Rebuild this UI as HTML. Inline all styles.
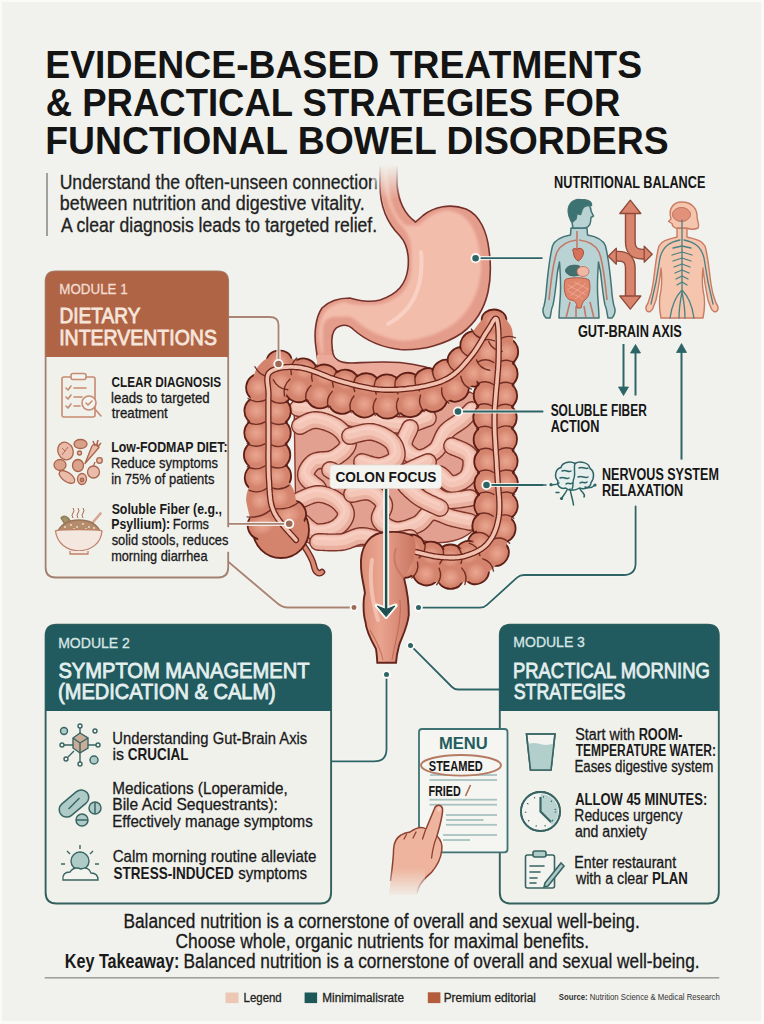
<!DOCTYPE html>
<html><head><meta charset="utf-8"><title>Functional Bowel Disorders</title>
<style>
html,body{margin:0;padding:0;background:#f1f2ed;}
body{width:764px;height:1024px;overflow:hidden;}
svg{display:block;font-family:"Liberation Sans",sans-serif;}
</style></head>
<body>
<svg width="764" height="1024" viewBox="0 0 764 1024">
<rect x="0" y="0" width="764" height="1024" fill="#fafaf8"/>
<rect x="2" y="2" width="759" height="1019" fill="#f1f2ed"/>
<text x="45.31" y="78.30" font-size="39.5" textLength="596.74" lengthAdjust="spacingAndGlyphs" fill="#141414" font-weight="bold" >EVIDENCE-BASED TREATMENTS</text>
<text x="45.71" y="116.00" font-size="39.5" textLength="574.64" lengthAdjust="spacingAndGlyphs" fill="#141414" font-weight="bold" >&amp; PRACTICAL STRATEGIES FOR</text>
<text x="45.31" y="153.80" font-size="39.5" textLength="623.35" lengthAdjust="spacingAndGlyphs" fill="#141414" font-weight="bold" >FUNCTIONAL BOWEL DISORDERS</text>
<rect x="46" y="173" width="2" height="63" fill="#a0a09c"/>
<text x="59.64" y="188.80" font-size="19.3" textLength="318.10" lengthAdjust="spacingAndGlyphs" fill="#222"  stroke="#222" stroke-width="0.3">Understand the often-unseen connection</text>
<text x="59.85" y="210.30" font-size="19.3" textLength="304.77" lengthAdjust="spacingAndGlyphs" fill="#222"  stroke="#222" stroke-width="0.3">between nutrition and digestive vitality.</text>
<text x="60.97" y="231.90" font-size="19.3" textLength="316.13" lengthAdjust="spacingAndGlyphs" fill="#222"  stroke="#222" stroke-width="0.3">A clear diagnosis leads to targeted relief.</text>
<defs>
<radialGradient id="haus" cx="0.5" cy="0.45" r="0.55">
<stop offset="0" stop-color="#eaa792"/><stop offset="0.55" stop-color="#e29a84" stop-opacity="0.7"/><stop offset="1" stop-color="#d4836d" stop-opacity="0"/>
</radialGradient>
<linearGradient id="esoFade" x1="0" y1="0" x2="0" y2="1">
<stop offset="0" stop-color="#f2b6a6" stop-opacity="0"/><stop offset="0.5" stop-color="#f2b6a6" stop-opacity="1"/>
</linearGradient>
<linearGradient id="esoEdge" x1="0" y1="0" x2="0" y2="1">
<stop offset="0" stop-color="#8f3f33" stop-opacity="0"/><stop offset="0.5" stop-color="#8f3f33" stop-opacity="1"/>
</linearGradient>
<linearGradient id="bgFade" x1="0" y1="0" x2="0" y2="1">
<stop offset="0.15" stop-color="#f1f2ed" stop-opacity="1"/><stop offset="1" stop-color="#f1f2ed" stop-opacity="0"/>
</linearGradient>
<linearGradient id="rectG" x1="0" y1="0" x2="1" y2="0">
<stop offset="0" stop-color="#dc8f79"/><stop offset="0.35" stop-color="#e9a48f"/><stop offset="1" stop-color="#c97562"/>
</linearGradient>
</defs>
<path d="M294,398 C330,410 400,425 470,392 L480,398 L478,522 C470,542 440,546 420,540 C400,536 380,546 360,546 C330,550 305,548 296,532 Z" fill="#e2a090" stroke="#8a3a2e" stroke-width="1.4"/>
<path d="M298.0,408.0 L299.3,408.1 L300.9,408.1 L302.9,408.2 L305.0,408.3 L307.3,408.4 L309.8,408.5 L312.4,408.6 L315.0,408.8 L317.6,409.0 L320.2,409.3 L322.7,409.6 L325.0,410.0 L327.2,410.5 L329.5,411.0 L331.7,411.7 L334.0,412.4 L336.2,413.1 L338.4,413.9 L340.7,414.6 L342.9,415.4 L345.2,416.1 L347.4,416.8 L349.7,417.5 L352.0,418.0 L354.3,418.5 L356.6,418.9 L359.0,419.3 L361.4,419.7 L363.7,420.0 L366.1,420.3 L368.5,420.6 L370.9,420.9 L373.2,421.2 L375.5,421.4 L377.8,421.7 L380.0,422.0 L382.2,422.3 L384.4,422.7 L386.5,423.1 L388.6,423.4 L390.7,423.8 L392.8,424.2 L394.9,424.5 L396.9,424.8 L399.0,425.0 L401.0,425.1 L403.0,425.1 L405.0,425.0 L407.1,424.7 L409.2,424.3 L411.4,423.8 L413.7,423.1 L415.9,422.4 L418.1,421.7 L420.1,420.9 L422.1,420.2 L423.9,419.5 L425.5,418.9 L426.9,418.4 L428.0,418.0" fill="none" stroke="#7f3429" stroke-width="18" stroke-linecap="round" stroke-linejoin="round"/>
<path d="M298.0,408.0 L299.3,408.1 L300.9,408.1 L302.9,408.2 L305.0,408.3 L307.3,408.4 L309.8,408.5 L312.4,408.6 L315.0,408.8 L317.6,409.0 L320.2,409.3 L322.7,409.6 L325.0,410.0 L327.2,410.5 L329.5,411.0 L331.7,411.7 L334.0,412.4 L336.2,413.1 L338.4,413.9 L340.7,414.6 L342.9,415.4 L345.2,416.1 L347.4,416.8 L349.7,417.5 L352.0,418.0 L354.3,418.5 L356.6,418.9 L359.0,419.3 L361.4,419.7 L363.7,420.0 L366.1,420.3 L368.5,420.6 L370.9,420.9 L373.2,421.2 L375.5,421.4 L377.8,421.7 L380.0,422.0 L382.2,422.3 L384.4,422.7 L386.5,423.1 L388.6,423.4 L390.7,423.8 L392.8,424.2 L394.9,424.5 L396.9,424.8 L399.0,425.0 L401.0,425.1 L403.0,425.1 L405.0,425.0 L407.1,424.7 L409.2,424.3 L411.4,423.8 L413.7,423.1 L415.9,422.4 L418.1,421.7 L420.1,420.9 L422.1,420.2 L423.9,419.5 L425.5,418.9 L426.9,418.4 L428.0,418.0" fill="none" stroke="#eab0a0" stroke-width="15.2" stroke-linecap="round" stroke-linejoin="round"/>
<path d="M298.0,408.0 L299.3,408.1 L300.9,408.1 L302.9,408.2 L305.0,408.3 L307.3,408.4 L309.8,408.5 L312.4,408.6 L315.0,408.8 L317.6,409.0 L320.2,409.3 L322.7,409.6 L325.0,410.0 L327.2,410.5 L329.5,411.0 L331.7,411.7 L334.0,412.4 L336.2,413.1 L338.4,413.9 L340.7,414.6 L342.9,415.4 L345.2,416.1 L347.4,416.8 L349.7,417.5 L352.0,418.0 L354.3,418.5 L356.6,418.9 L359.0,419.3 L361.4,419.7 L363.7,420.0 L366.1,420.3 L368.5,420.6 L370.9,420.9 L373.2,421.2 L375.5,421.4 L377.8,421.7 L380.0,422.0 L382.2,422.3 L384.4,422.7 L386.5,423.1 L388.6,423.4 L390.7,423.8 L392.8,424.2 L394.9,424.5 L396.9,424.8 L399.0,425.0 L401.0,425.1 L403.0,425.1 L405.0,425.0 L407.1,424.7 L409.2,424.3 L411.4,423.8 L413.7,423.1 L415.9,422.4 L418.1,421.7 L420.1,420.9 L422.1,420.2 L423.9,419.5 L425.5,418.9 L426.9,418.4 L428.0,418.0" fill="none" stroke="#f4c6b7" stroke-width="10" stroke-linecap="round" stroke-linejoin="round" transform="translate(-0.8,-1.6)"/>
<path d="M298.0,408.0 L299.3,408.1 L300.9,408.1 L302.9,408.2 L305.0,408.3 L307.3,408.4 L309.8,408.5 L312.4,408.6 L315.0,408.8 L317.6,409.0 L320.2,409.3 L322.7,409.6 L325.0,410.0 L327.2,410.5 L329.5,411.0 L331.7,411.7 L334.0,412.4 L336.2,413.1 L338.4,413.9 L340.7,414.6 L342.9,415.4 L345.2,416.1 L347.4,416.8 L349.7,417.5 L352.0,418.0 L354.3,418.5 L356.6,418.9 L359.0,419.3 L361.4,419.7 L363.7,420.0 L366.1,420.3 L368.5,420.6 L370.9,420.9 L373.2,421.2 L375.5,421.4 L377.8,421.7 L380.0,422.0 L382.2,422.3 L384.4,422.7 L386.5,423.1 L388.6,423.4 L390.7,423.8 L392.8,424.2 L394.9,424.5 L396.9,424.8 L399.0,425.0 L401.0,425.1 L403.0,425.1 L405.0,425.0 L407.1,424.7 L409.2,424.3 L411.4,423.8 L413.7,423.1 L415.9,422.4 L418.1,421.7 L420.1,420.9 L422.1,420.2 L423.9,419.5 L425.5,418.9 L426.9,418.4 L428.0,418.0" fill="none" stroke="#f8d2c5" stroke-width="3" stroke-linecap="round" stroke-linejoin="round" transform="translate(-1.5,-3.5)" opacity="0.7"/>
<path d="M410.0,428.0 L409.6,428.9 L409.1,430.0 L408.5,431.4 L407.7,432.9 L406.9,434.5 L406.1,436.2 L405.4,438.0 L404.7,439.8 L404.2,441.5 L403.9,443.1 L403.8,444.7 L404.0,446.0 L404.5,447.3 L405.1,448.6 L406.0,449.9 L407.0,451.2 L408.2,452.4 L409.5,453.6 L410.9,454.7 L412.3,455.7 L413.8,456.5 L415.2,457.2 L416.6,457.7 L418.0,458.0 L419.4,458.1 L420.9,457.9 L422.4,457.6 L424.0,457.2 L425.6,456.6 L427.2,455.9 L428.9,455.1 L430.4,454.1 L432.0,453.2 L433.4,452.1 L434.8,451.1 L436.0,450.0 L437.1,448.8 L438.1,447.5 L438.9,446.1 L439.7,444.5 L440.4,442.9 L441.1,441.2 L441.8,439.6 L442.5,437.9 L443.3,436.3 L444.1,434.8 L445.0,433.3 L446.0,432.0 L447.1,430.8 L448.4,429.6 L449.7,428.5 L451.1,427.5 L452.5,426.5 L454.0,425.5 L455.5,424.6 L456.9,423.6 L458.3,422.7 L459.6,421.8 L460.9,420.9 L462.0,420.0 L463.1,419.1 L464.1,418.1 L465.2,417.1 L466.1,416.1 L467.1,415.2 L468.0,414.2 L468.8,413.4 L469.6,412.5 L470.3,411.8 L471.0,411.1 L471.5,410.5 L472.0,410.0" fill="none" stroke="#7f3429" stroke-width="18" stroke-linecap="round" stroke-linejoin="round"/>
<path d="M410.0,428.0 L409.6,428.9 L409.1,430.0 L408.5,431.4 L407.7,432.9 L406.9,434.5 L406.1,436.2 L405.4,438.0 L404.7,439.8 L404.2,441.5 L403.9,443.1 L403.8,444.7 L404.0,446.0 L404.5,447.3 L405.1,448.6 L406.0,449.9 L407.0,451.2 L408.2,452.4 L409.5,453.6 L410.9,454.7 L412.3,455.7 L413.8,456.5 L415.2,457.2 L416.6,457.7 L418.0,458.0 L419.4,458.1 L420.9,457.9 L422.4,457.6 L424.0,457.2 L425.6,456.6 L427.2,455.9 L428.9,455.1 L430.4,454.1 L432.0,453.2 L433.4,452.1 L434.8,451.1 L436.0,450.0 L437.1,448.8 L438.1,447.5 L438.9,446.1 L439.7,444.5 L440.4,442.9 L441.1,441.2 L441.8,439.6 L442.5,437.9 L443.3,436.3 L444.1,434.8 L445.0,433.3 L446.0,432.0 L447.1,430.8 L448.4,429.6 L449.7,428.5 L451.1,427.5 L452.5,426.5 L454.0,425.5 L455.5,424.6 L456.9,423.6 L458.3,422.7 L459.6,421.8 L460.9,420.9 L462.0,420.0 L463.1,419.1 L464.1,418.1 L465.2,417.1 L466.1,416.1 L467.1,415.2 L468.0,414.2 L468.8,413.4 L469.6,412.5 L470.3,411.8 L471.0,411.1 L471.5,410.5 L472.0,410.0" fill="none" stroke="#eab0a0" stroke-width="15.2" stroke-linecap="round" stroke-linejoin="round"/>
<path d="M410.0,428.0 L409.6,428.9 L409.1,430.0 L408.5,431.4 L407.7,432.9 L406.9,434.5 L406.1,436.2 L405.4,438.0 L404.7,439.8 L404.2,441.5 L403.9,443.1 L403.8,444.7 L404.0,446.0 L404.5,447.3 L405.1,448.6 L406.0,449.9 L407.0,451.2 L408.2,452.4 L409.5,453.6 L410.9,454.7 L412.3,455.7 L413.8,456.5 L415.2,457.2 L416.6,457.7 L418.0,458.0 L419.4,458.1 L420.9,457.9 L422.4,457.6 L424.0,457.2 L425.6,456.6 L427.2,455.9 L428.9,455.1 L430.4,454.1 L432.0,453.2 L433.4,452.1 L434.8,451.1 L436.0,450.0 L437.1,448.8 L438.1,447.5 L438.9,446.1 L439.7,444.5 L440.4,442.9 L441.1,441.2 L441.8,439.6 L442.5,437.9 L443.3,436.3 L444.1,434.8 L445.0,433.3 L446.0,432.0 L447.1,430.8 L448.4,429.6 L449.7,428.5 L451.1,427.5 L452.5,426.5 L454.0,425.5 L455.5,424.6 L456.9,423.6 L458.3,422.7 L459.6,421.8 L460.9,420.9 L462.0,420.0 L463.1,419.1 L464.1,418.1 L465.2,417.1 L466.1,416.1 L467.1,415.2 L468.0,414.2 L468.8,413.4 L469.6,412.5 L470.3,411.8 L471.0,411.1 L471.5,410.5 L472.0,410.0" fill="none" stroke="#f4c6b7" stroke-width="10" stroke-linecap="round" stroke-linejoin="round" transform="translate(-0.8,-1.6)"/>
<path d="M410.0,428.0 L409.6,428.9 L409.1,430.0 L408.5,431.4 L407.7,432.9 L406.9,434.5 L406.1,436.2 L405.4,438.0 L404.7,439.8 L404.2,441.5 L403.9,443.1 L403.8,444.7 L404.0,446.0 L404.5,447.3 L405.1,448.6 L406.0,449.9 L407.0,451.2 L408.2,452.4 L409.5,453.6 L410.9,454.7 L412.3,455.7 L413.8,456.5 L415.2,457.2 L416.6,457.7 L418.0,458.0 L419.4,458.1 L420.9,457.9 L422.4,457.6 L424.0,457.2 L425.6,456.6 L427.2,455.9 L428.9,455.1 L430.4,454.1 L432.0,453.2 L433.4,452.1 L434.8,451.1 L436.0,450.0 L437.1,448.8 L438.1,447.5 L438.9,446.1 L439.7,444.5 L440.4,442.9 L441.1,441.2 L441.8,439.6 L442.5,437.9 L443.3,436.3 L444.1,434.8 L445.0,433.3 L446.0,432.0 L447.1,430.8 L448.4,429.6 L449.7,428.5 L451.1,427.5 L452.5,426.5 L454.0,425.5 L455.5,424.6 L456.9,423.6 L458.3,422.7 L459.6,421.8 L460.9,420.9 L462.0,420.0 L463.1,419.1 L464.1,418.1 L465.2,417.1 L466.1,416.1 L467.1,415.2 L468.0,414.2 L468.8,413.4 L469.6,412.5 L470.3,411.8 L471.0,411.1 L471.5,410.5 L472.0,410.0" fill="none" stroke="#f8d2c5" stroke-width="3" stroke-linecap="round" stroke-linejoin="round" transform="translate(-1.5,-3.5)" opacity="0.7"/>
<path d="M300.0,426.0 L300.8,425.7 L301.7,425.2 L302.7,424.6 L303.9,423.9 L305.2,423.2 L306.6,422.5 L308.1,421.8 L309.6,421.2 L311.2,420.7 L312.8,420.3 L314.4,420.0 L316.0,420.0 L317.7,420.2 L319.5,420.4 L321.4,420.8 L323.3,421.3 L325.3,421.9 L327.4,422.6 L329.4,423.4 L331.3,424.2 L333.2,425.1 L335.0,426.0 L336.6,427.0 L338.0,428.0 L339.3,429.1 L340.6,430.2 L341.9,431.5 L343.1,432.8 L344.2,434.2 L345.2,435.6 L346.1,437.1 L346.9,438.5 L347.5,440.0 L347.9,441.4 L348.0,442.7 L348.0,444.0 L347.7,445.3 L347.1,446.6 L346.3,447.9 L345.3,449.2 L344.2,450.5 L342.9,451.8 L341.5,453.0 L340.0,454.1 L338.5,455.2 L337.0,456.3 L335.5,457.2 L334.0,458.0 L332.5,458.7 L330.9,459.1 L329.1,459.5 L327.3,459.7 L325.5,459.9 L323.6,460.0 L321.8,460.1 L320.0,460.3 L318.3,460.5 L316.7,460.9 L315.3,461.3 L314.0,462.0 L312.8,462.8 L311.7,463.8 L310.7,464.8 L309.7,466.0 L308.8,467.2 L308.0,468.5 L307.3,469.8 L306.7,471.1 L306.3,472.4 L306.0,473.7 L305.9,474.9 L306.0,476.0 L306.3,477.1 L307.0,478.3 L307.9,479.4 L309.0,480.6 L310.2,481.7 L311.5,482.9 L312.8,484.0 L314.1,485.0 L315.4,485.9 L316.5,486.7 L317.4,487.4 L318.0,488.0" fill="none" stroke="#7f3429" stroke-width="18" stroke-linecap="round" stroke-linejoin="round"/>
<path d="M300.0,426.0 L300.8,425.7 L301.7,425.2 L302.7,424.6 L303.9,423.9 L305.2,423.2 L306.6,422.5 L308.1,421.8 L309.6,421.2 L311.2,420.7 L312.8,420.3 L314.4,420.0 L316.0,420.0 L317.7,420.2 L319.5,420.4 L321.4,420.8 L323.3,421.3 L325.3,421.9 L327.4,422.6 L329.4,423.4 L331.3,424.2 L333.2,425.1 L335.0,426.0 L336.6,427.0 L338.0,428.0 L339.3,429.1 L340.6,430.2 L341.9,431.5 L343.1,432.8 L344.2,434.2 L345.2,435.6 L346.1,437.1 L346.9,438.5 L347.5,440.0 L347.9,441.4 L348.0,442.7 L348.0,444.0 L347.7,445.3 L347.1,446.6 L346.3,447.9 L345.3,449.2 L344.2,450.5 L342.9,451.8 L341.5,453.0 L340.0,454.1 L338.5,455.2 L337.0,456.3 L335.5,457.2 L334.0,458.0 L332.5,458.7 L330.9,459.1 L329.1,459.5 L327.3,459.7 L325.5,459.9 L323.6,460.0 L321.8,460.1 L320.0,460.3 L318.3,460.5 L316.7,460.9 L315.3,461.3 L314.0,462.0 L312.8,462.8 L311.7,463.8 L310.7,464.8 L309.7,466.0 L308.8,467.2 L308.0,468.5 L307.3,469.8 L306.7,471.1 L306.3,472.4 L306.0,473.7 L305.9,474.9 L306.0,476.0 L306.3,477.1 L307.0,478.3 L307.9,479.4 L309.0,480.6 L310.2,481.7 L311.5,482.9 L312.8,484.0 L314.1,485.0 L315.4,485.9 L316.5,486.7 L317.4,487.4 L318.0,488.0" fill="none" stroke="#eab0a0" stroke-width="15.2" stroke-linecap="round" stroke-linejoin="round"/>
<path d="M300.0,426.0 L300.8,425.7 L301.7,425.2 L302.7,424.6 L303.9,423.9 L305.2,423.2 L306.6,422.5 L308.1,421.8 L309.6,421.2 L311.2,420.7 L312.8,420.3 L314.4,420.0 L316.0,420.0 L317.7,420.2 L319.5,420.4 L321.4,420.8 L323.3,421.3 L325.3,421.9 L327.4,422.6 L329.4,423.4 L331.3,424.2 L333.2,425.1 L335.0,426.0 L336.6,427.0 L338.0,428.0 L339.3,429.1 L340.6,430.2 L341.9,431.5 L343.1,432.8 L344.2,434.2 L345.2,435.6 L346.1,437.1 L346.9,438.5 L347.5,440.0 L347.9,441.4 L348.0,442.7 L348.0,444.0 L347.7,445.3 L347.1,446.6 L346.3,447.9 L345.3,449.2 L344.2,450.5 L342.9,451.8 L341.5,453.0 L340.0,454.1 L338.5,455.2 L337.0,456.3 L335.5,457.2 L334.0,458.0 L332.5,458.7 L330.9,459.1 L329.1,459.5 L327.3,459.7 L325.5,459.9 L323.6,460.0 L321.8,460.1 L320.0,460.3 L318.3,460.5 L316.7,460.9 L315.3,461.3 L314.0,462.0 L312.8,462.8 L311.7,463.8 L310.7,464.8 L309.7,466.0 L308.8,467.2 L308.0,468.5 L307.3,469.8 L306.7,471.1 L306.3,472.4 L306.0,473.7 L305.9,474.9 L306.0,476.0 L306.3,477.1 L307.0,478.3 L307.9,479.4 L309.0,480.6 L310.2,481.7 L311.5,482.9 L312.8,484.0 L314.1,485.0 L315.4,485.9 L316.5,486.7 L317.4,487.4 L318.0,488.0" fill="none" stroke="#f4c6b7" stroke-width="10" stroke-linecap="round" stroke-linejoin="round" transform="translate(-0.8,-1.6)"/>
<path d="M300.0,426.0 L300.8,425.7 L301.7,425.2 L302.7,424.6 L303.9,423.9 L305.2,423.2 L306.6,422.5 L308.1,421.8 L309.6,421.2 L311.2,420.7 L312.8,420.3 L314.4,420.0 L316.0,420.0 L317.7,420.2 L319.5,420.4 L321.4,420.8 L323.3,421.3 L325.3,421.9 L327.4,422.6 L329.4,423.4 L331.3,424.2 L333.2,425.1 L335.0,426.0 L336.6,427.0 L338.0,428.0 L339.3,429.1 L340.6,430.2 L341.9,431.5 L343.1,432.8 L344.2,434.2 L345.2,435.6 L346.1,437.1 L346.9,438.5 L347.5,440.0 L347.9,441.4 L348.0,442.7 L348.0,444.0 L347.7,445.3 L347.1,446.6 L346.3,447.9 L345.3,449.2 L344.2,450.5 L342.9,451.8 L341.5,453.0 L340.0,454.1 L338.5,455.2 L337.0,456.3 L335.5,457.2 L334.0,458.0 L332.5,458.7 L330.9,459.1 L329.1,459.5 L327.3,459.7 L325.5,459.9 L323.6,460.0 L321.8,460.1 L320.0,460.3 L318.3,460.5 L316.7,460.9 L315.3,461.3 L314.0,462.0 L312.8,462.8 L311.7,463.8 L310.7,464.8 L309.7,466.0 L308.8,467.2 L308.0,468.5 L307.3,469.8 L306.7,471.1 L306.3,472.4 L306.0,473.7 L305.9,474.9 L306.0,476.0 L306.3,477.1 L307.0,478.3 L307.9,479.4 L309.0,480.6 L310.2,481.7 L311.5,482.9 L312.8,484.0 L314.1,485.0 L315.4,485.9 L316.5,486.7 L317.4,487.4 L318.0,488.0" fill="none" stroke="#f8d2c5" stroke-width="3" stroke-linecap="round" stroke-linejoin="round" transform="translate(-1.5,-3.5)" opacity="0.7"/>
<path d="M350.0,436.0 L351.1,435.8 L352.4,435.4 L354.0,435.0 L355.8,434.4 L357.7,433.9 L359.8,433.4 L361.9,432.9 L364.0,432.4 L366.1,432.1 L368.2,431.9 L370.2,431.9 L372.0,432.0 L373.8,432.3 L375.6,432.8 L377.5,433.4 L379.4,434.1 L381.3,434.9 L383.1,435.8 L384.9,436.7 L386.6,437.7 L388.2,438.8 L389.6,439.8 L390.9,440.9 L392.0,442.0 L393.0,443.1 L393.8,444.4 L394.6,445.8 L395.3,447.2 L395.8,448.6 L396.2,450.1 L396.6,451.6 L396.7,453.0 L396.8,454.4 L396.7,455.7 L396.4,456.9 L396.0,458.0 L395.4,459.0 L394.5,459.9 L393.5,460.8 L392.2,461.7 L390.9,462.5 L389.4,463.2 L387.8,463.9 L386.2,464.5 L384.6,465.0 L383.0,465.5 L381.5,465.8 L380.0,466.0 L378.5,466.1 L376.9,466.0 L375.2,465.8 L373.5,465.4 L371.7,465.0 L370.0,464.5 L368.3,464.0 L366.7,463.5 L365.3,463.0 L364.0,462.6 L362.9,462.2 L362.0,462.0" fill="none" stroke="#7f3429" stroke-width="18" stroke-linecap="round" stroke-linejoin="round"/>
<path d="M350.0,436.0 L351.1,435.8 L352.4,435.4 L354.0,435.0 L355.8,434.4 L357.7,433.9 L359.8,433.4 L361.9,432.9 L364.0,432.4 L366.1,432.1 L368.2,431.9 L370.2,431.9 L372.0,432.0 L373.8,432.3 L375.6,432.8 L377.5,433.4 L379.4,434.1 L381.3,434.9 L383.1,435.8 L384.9,436.7 L386.6,437.7 L388.2,438.8 L389.6,439.8 L390.9,440.9 L392.0,442.0 L393.0,443.1 L393.8,444.4 L394.6,445.8 L395.3,447.2 L395.8,448.6 L396.2,450.1 L396.6,451.6 L396.7,453.0 L396.8,454.4 L396.7,455.7 L396.4,456.9 L396.0,458.0 L395.4,459.0 L394.5,459.9 L393.5,460.8 L392.2,461.7 L390.9,462.5 L389.4,463.2 L387.8,463.9 L386.2,464.5 L384.6,465.0 L383.0,465.5 L381.5,465.8 L380.0,466.0 L378.5,466.1 L376.9,466.0 L375.2,465.8 L373.5,465.4 L371.7,465.0 L370.0,464.5 L368.3,464.0 L366.7,463.5 L365.3,463.0 L364.0,462.6 L362.9,462.2 L362.0,462.0" fill="none" stroke="#eab0a0" stroke-width="15.2" stroke-linecap="round" stroke-linejoin="round"/>
<path d="M350.0,436.0 L351.1,435.8 L352.4,435.4 L354.0,435.0 L355.8,434.4 L357.7,433.9 L359.8,433.4 L361.9,432.9 L364.0,432.4 L366.1,432.1 L368.2,431.9 L370.2,431.9 L372.0,432.0 L373.8,432.3 L375.6,432.8 L377.5,433.4 L379.4,434.1 L381.3,434.9 L383.1,435.8 L384.9,436.7 L386.6,437.7 L388.2,438.8 L389.6,439.8 L390.9,440.9 L392.0,442.0 L393.0,443.1 L393.8,444.4 L394.6,445.8 L395.3,447.2 L395.8,448.6 L396.2,450.1 L396.6,451.6 L396.7,453.0 L396.8,454.4 L396.7,455.7 L396.4,456.9 L396.0,458.0 L395.4,459.0 L394.5,459.9 L393.5,460.8 L392.2,461.7 L390.9,462.5 L389.4,463.2 L387.8,463.9 L386.2,464.5 L384.6,465.0 L383.0,465.5 L381.5,465.8 L380.0,466.0 L378.5,466.1 L376.9,466.0 L375.2,465.8 L373.5,465.4 L371.7,465.0 L370.0,464.5 L368.3,464.0 L366.7,463.5 L365.3,463.0 L364.0,462.6 L362.9,462.2 L362.0,462.0" fill="none" stroke="#f4c6b7" stroke-width="10" stroke-linecap="round" stroke-linejoin="round" transform="translate(-0.8,-1.6)"/>
<path d="M350.0,436.0 L351.1,435.8 L352.4,435.4 L354.0,435.0 L355.8,434.4 L357.7,433.9 L359.8,433.4 L361.9,432.9 L364.0,432.4 L366.1,432.1 L368.2,431.9 L370.2,431.9 L372.0,432.0 L373.8,432.3 L375.6,432.8 L377.5,433.4 L379.4,434.1 L381.3,434.9 L383.1,435.8 L384.9,436.7 L386.6,437.7 L388.2,438.8 L389.6,439.8 L390.9,440.9 L392.0,442.0 L393.0,443.1 L393.8,444.4 L394.6,445.8 L395.3,447.2 L395.8,448.6 L396.2,450.1 L396.6,451.6 L396.7,453.0 L396.8,454.4 L396.7,455.7 L396.4,456.9 L396.0,458.0 L395.4,459.0 L394.5,459.9 L393.5,460.8 L392.2,461.7 L390.9,462.5 L389.4,463.2 L387.8,463.9 L386.2,464.5 L384.6,465.0 L383.0,465.5 L381.5,465.8 L380.0,466.0 L378.5,466.1 L376.9,466.0 L375.2,465.8 L373.5,465.4 L371.7,465.0 L370.0,464.5 L368.3,464.0 L366.7,463.5 L365.3,463.0 L364.0,462.6 L362.9,462.2 L362.0,462.0" fill="none" stroke="#f8d2c5" stroke-width="3" stroke-linecap="round" stroke-linejoin="round" transform="translate(-1.5,-3.5)" opacity="0.7"/>
<path d="M452.0,446.0 L452.9,446.5 L454.2,447.0 L455.7,447.6 L457.4,448.2 L459.2,449.0 L461.1,449.8 L463.0,450.6 L464.8,451.6 L466.5,452.6 L467.9,453.6 L469.1,454.8 L470.0,456.0 L470.6,457.4 L471.0,458.9 L471.2,460.6 L471.3,462.4 L471.3,464.2 L471.1,466.1 L470.8,468.0 L470.4,469.9 L470.0,471.6 L469.4,473.2 L468.7,474.7 L468.0,476.0 L467.2,477.1 L466.1,478.2 L464.9,479.3 L463.6,480.2 L462.2,481.1 L460.8,481.9 L459.2,482.6 L457.7,483.1 L456.2,483.5 L454.7,483.8 L453.3,484.0 L452.0,484.0 L450.7,483.7 L449.5,483.1 L448.2,482.2 L446.9,481.0 L445.6,479.8 L444.4,478.5 L443.2,477.2 L442.0,476.1 L440.9,475.1 L439.8,474.4 L438.9,474.0 L438.0,474.0 L437.2,474.4 L436.3,475.2 L435.5,476.3 L434.7,477.6 L433.9,479.1 L433.2,480.8 L432.7,482.4 L432.2,484.1 L431.9,485.8 L431.8,487.4 L431.8,488.8 L432.0,490.0 L432.4,491.1 L433.1,492.2 L433.9,493.2 L434.8,494.2 L435.9,495.2 L437.1,496.1 L438.4,497.0 L439.9,497.8 L441.3,498.5 L442.9,499.1 L444.4,499.6 L446.0,500.0 L447.7,500.2 L449.7,500.3 L451.9,500.3 L454.1,500.1 L456.5,499.9 L458.9,499.6 L461.2,499.3 L463.4,499.0 L465.5,498.6 L467.3,498.4 L468.8,498.1 L470.0,498.0" fill="none" stroke="#7f3429" stroke-width="18" stroke-linecap="round" stroke-linejoin="round"/>
<path d="M452.0,446.0 L452.9,446.5 L454.2,447.0 L455.7,447.6 L457.4,448.2 L459.2,449.0 L461.1,449.8 L463.0,450.6 L464.8,451.6 L466.5,452.6 L467.9,453.6 L469.1,454.8 L470.0,456.0 L470.6,457.4 L471.0,458.9 L471.2,460.6 L471.3,462.4 L471.3,464.2 L471.1,466.1 L470.8,468.0 L470.4,469.9 L470.0,471.6 L469.4,473.2 L468.7,474.7 L468.0,476.0 L467.2,477.1 L466.1,478.2 L464.9,479.3 L463.6,480.2 L462.2,481.1 L460.8,481.9 L459.2,482.6 L457.7,483.1 L456.2,483.5 L454.7,483.8 L453.3,484.0 L452.0,484.0 L450.7,483.7 L449.5,483.1 L448.2,482.2 L446.9,481.0 L445.6,479.8 L444.4,478.5 L443.2,477.2 L442.0,476.1 L440.9,475.1 L439.8,474.4 L438.9,474.0 L438.0,474.0 L437.2,474.4 L436.3,475.2 L435.5,476.3 L434.7,477.6 L433.9,479.1 L433.2,480.8 L432.7,482.4 L432.2,484.1 L431.9,485.8 L431.8,487.4 L431.8,488.8 L432.0,490.0 L432.4,491.1 L433.1,492.2 L433.9,493.2 L434.8,494.2 L435.9,495.2 L437.1,496.1 L438.4,497.0 L439.9,497.8 L441.3,498.5 L442.9,499.1 L444.4,499.6 L446.0,500.0 L447.7,500.2 L449.7,500.3 L451.9,500.3 L454.1,500.1 L456.5,499.9 L458.9,499.6 L461.2,499.3 L463.4,499.0 L465.5,498.6 L467.3,498.4 L468.8,498.1 L470.0,498.0" fill="none" stroke="#eab0a0" stroke-width="15.2" stroke-linecap="round" stroke-linejoin="round"/>
<path d="M452.0,446.0 L452.9,446.5 L454.2,447.0 L455.7,447.6 L457.4,448.2 L459.2,449.0 L461.1,449.8 L463.0,450.6 L464.8,451.6 L466.5,452.6 L467.9,453.6 L469.1,454.8 L470.0,456.0 L470.6,457.4 L471.0,458.9 L471.2,460.6 L471.3,462.4 L471.3,464.2 L471.1,466.1 L470.8,468.0 L470.4,469.9 L470.0,471.6 L469.4,473.2 L468.7,474.7 L468.0,476.0 L467.2,477.1 L466.1,478.2 L464.9,479.3 L463.6,480.2 L462.2,481.1 L460.8,481.9 L459.2,482.6 L457.7,483.1 L456.2,483.5 L454.7,483.8 L453.3,484.0 L452.0,484.0 L450.7,483.7 L449.5,483.1 L448.2,482.2 L446.9,481.0 L445.6,479.8 L444.4,478.5 L443.2,477.2 L442.0,476.1 L440.9,475.1 L439.8,474.4 L438.9,474.0 L438.0,474.0 L437.2,474.4 L436.3,475.2 L435.5,476.3 L434.7,477.6 L433.9,479.1 L433.2,480.8 L432.7,482.4 L432.2,484.1 L431.9,485.8 L431.8,487.4 L431.8,488.8 L432.0,490.0 L432.4,491.1 L433.1,492.2 L433.9,493.2 L434.8,494.2 L435.9,495.2 L437.1,496.1 L438.4,497.0 L439.9,497.8 L441.3,498.5 L442.9,499.1 L444.4,499.6 L446.0,500.0 L447.7,500.2 L449.7,500.3 L451.9,500.3 L454.1,500.1 L456.5,499.9 L458.9,499.6 L461.2,499.3 L463.4,499.0 L465.5,498.6 L467.3,498.4 L468.8,498.1 L470.0,498.0" fill="none" stroke="#f4c6b7" stroke-width="10" stroke-linecap="round" stroke-linejoin="round" transform="translate(-0.8,-1.6)"/>
<path d="M452.0,446.0 L452.9,446.5 L454.2,447.0 L455.7,447.6 L457.4,448.2 L459.2,449.0 L461.1,449.8 L463.0,450.6 L464.8,451.6 L466.5,452.6 L467.9,453.6 L469.1,454.8 L470.0,456.0 L470.6,457.4 L471.0,458.9 L471.2,460.6 L471.3,462.4 L471.3,464.2 L471.1,466.1 L470.8,468.0 L470.4,469.9 L470.0,471.6 L469.4,473.2 L468.7,474.7 L468.0,476.0 L467.2,477.1 L466.1,478.2 L464.9,479.3 L463.6,480.2 L462.2,481.1 L460.8,481.9 L459.2,482.6 L457.7,483.1 L456.2,483.5 L454.7,483.8 L453.3,484.0 L452.0,484.0 L450.7,483.7 L449.5,483.1 L448.2,482.2 L446.9,481.0 L445.6,479.8 L444.4,478.5 L443.2,477.2 L442.0,476.1 L440.9,475.1 L439.8,474.4 L438.9,474.0 L438.0,474.0 L437.2,474.4 L436.3,475.2 L435.5,476.3 L434.7,477.6 L433.9,479.1 L433.2,480.8 L432.7,482.4 L432.2,484.1 L431.9,485.8 L431.8,487.4 L431.8,488.8 L432.0,490.0 L432.4,491.1 L433.1,492.2 L433.9,493.2 L434.8,494.2 L435.9,495.2 L437.1,496.1 L438.4,497.0 L439.9,497.8 L441.3,498.5 L442.9,499.1 L444.4,499.6 L446.0,500.0 L447.7,500.2 L449.7,500.3 L451.9,500.3 L454.1,500.1 L456.5,499.9 L458.9,499.6 L461.2,499.3 L463.4,499.0 L465.5,498.6 L467.3,498.4 L468.8,498.1 L470.0,498.0" fill="none" stroke="#f8d2c5" stroke-width="3" stroke-linecap="round" stroke-linejoin="round" transform="translate(-1.5,-3.5)" opacity="0.7"/>
<path d="M330.0,470.0 L331.0,470.4 L332.2,471.0 L333.5,471.7 L335.1,472.4 L336.8,473.3 L338.6,474.1 L340.5,475.0 L342.4,475.8 L344.4,476.5 L346.3,477.2 L348.2,477.7 L350.0,478.0 L351.8,478.2 L353.6,478.2 L355.4,478.1 L357.3,477.9 L359.1,477.6 L361.0,477.2 L362.9,476.9 L364.7,476.6 L366.6,476.3 L368.4,476.1 L370.2,476.0 L372.0,476.0 L373.7,476.2 L375.5,476.5 L377.2,476.9 L378.9,477.4 L380.6,478.0 L382.2,478.5 L383.9,479.0 L385.6,479.5 L387.2,479.8 L388.8,480.1 L390.4,480.1 L392.0,480.0 L393.6,479.7 L395.1,479.1 L396.6,478.4 L398.1,477.6 L399.6,476.7 L401.1,475.8 L402.6,474.7 L404.1,473.7 L405.5,472.7 L407.0,471.7 L408.5,470.8 L410.0,470.0 L411.6,469.2 L413.2,468.5 L414.9,467.7 L416.7,466.9 L418.4,466.1 L420.1,465.4 L421.8,464.7 L423.3,464.0 L424.8,463.4 L426.0,462.8 L427.1,462.4 L428.0,462.0" fill="none" stroke="#7f3429" stroke-width="18" stroke-linecap="round" stroke-linejoin="round"/>
<path d="M330.0,470.0 L331.0,470.4 L332.2,471.0 L333.5,471.7 L335.1,472.4 L336.8,473.3 L338.6,474.1 L340.5,475.0 L342.4,475.8 L344.4,476.5 L346.3,477.2 L348.2,477.7 L350.0,478.0 L351.8,478.2 L353.6,478.2 L355.4,478.1 L357.3,477.9 L359.1,477.6 L361.0,477.2 L362.9,476.9 L364.7,476.6 L366.6,476.3 L368.4,476.1 L370.2,476.0 L372.0,476.0 L373.7,476.2 L375.5,476.5 L377.2,476.9 L378.9,477.4 L380.6,478.0 L382.2,478.5 L383.9,479.0 L385.6,479.5 L387.2,479.8 L388.8,480.1 L390.4,480.1 L392.0,480.0 L393.6,479.7 L395.1,479.1 L396.6,478.4 L398.1,477.6 L399.6,476.7 L401.1,475.8 L402.6,474.7 L404.1,473.7 L405.5,472.7 L407.0,471.7 L408.5,470.8 L410.0,470.0 L411.6,469.2 L413.2,468.5 L414.9,467.7 L416.7,466.9 L418.4,466.1 L420.1,465.4 L421.8,464.7 L423.3,464.0 L424.8,463.4 L426.0,462.8 L427.1,462.4 L428.0,462.0" fill="none" stroke="#eab0a0" stroke-width="15.2" stroke-linecap="round" stroke-linejoin="round"/>
<path d="M330.0,470.0 L331.0,470.4 L332.2,471.0 L333.5,471.7 L335.1,472.4 L336.8,473.3 L338.6,474.1 L340.5,475.0 L342.4,475.8 L344.4,476.5 L346.3,477.2 L348.2,477.7 L350.0,478.0 L351.8,478.2 L353.6,478.2 L355.4,478.1 L357.3,477.9 L359.1,477.6 L361.0,477.2 L362.9,476.9 L364.7,476.6 L366.6,476.3 L368.4,476.1 L370.2,476.0 L372.0,476.0 L373.7,476.2 L375.5,476.5 L377.2,476.9 L378.9,477.4 L380.6,478.0 L382.2,478.5 L383.9,479.0 L385.6,479.5 L387.2,479.8 L388.8,480.1 L390.4,480.1 L392.0,480.0 L393.6,479.7 L395.1,479.1 L396.6,478.4 L398.1,477.6 L399.6,476.7 L401.1,475.8 L402.6,474.7 L404.1,473.7 L405.5,472.7 L407.0,471.7 L408.5,470.8 L410.0,470.0 L411.6,469.2 L413.2,468.5 L414.9,467.7 L416.7,466.9 L418.4,466.1 L420.1,465.4 L421.8,464.7 L423.3,464.0 L424.8,463.4 L426.0,462.8 L427.1,462.4 L428.0,462.0" fill="none" stroke="#f4c6b7" stroke-width="10" stroke-linecap="round" stroke-linejoin="round" transform="translate(-0.8,-1.6)"/>
<path d="M330.0,470.0 L331.0,470.4 L332.2,471.0 L333.5,471.7 L335.1,472.4 L336.8,473.3 L338.6,474.1 L340.5,475.0 L342.4,475.8 L344.4,476.5 L346.3,477.2 L348.2,477.7 L350.0,478.0 L351.8,478.2 L353.6,478.2 L355.4,478.1 L357.3,477.9 L359.1,477.6 L361.0,477.2 L362.9,476.9 L364.7,476.6 L366.6,476.3 L368.4,476.1 L370.2,476.0 L372.0,476.0 L373.7,476.2 L375.5,476.5 L377.2,476.9 L378.9,477.4 L380.6,478.0 L382.2,478.5 L383.9,479.0 L385.6,479.5 L387.2,479.8 L388.8,480.1 L390.4,480.1 L392.0,480.0 L393.6,479.7 L395.1,479.1 L396.6,478.4 L398.1,477.6 L399.6,476.7 L401.1,475.8 L402.6,474.7 L404.1,473.7 L405.5,472.7 L407.0,471.7 L408.5,470.8 L410.0,470.0 L411.6,469.2 L413.2,468.5 L414.9,467.7 L416.7,466.9 L418.4,466.1 L420.1,465.4 L421.8,464.7 L423.3,464.0 L424.8,463.4 L426.0,462.8 L427.1,462.4 L428.0,462.0" fill="none" stroke="#f8d2c5" stroke-width="3" stroke-linecap="round" stroke-linejoin="round" transform="translate(-1.5,-3.5)" opacity="0.7"/>
<path d="M300.0,500.0 L300.9,499.7 L302.0,499.2 L303.2,498.6 L304.7,498.0 L306.2,497.3 L307.9,496.6 L309.6,496.0 L311.3,495.3 L313.1,494.8 L314.8,494.4 L316.4,494.1 L318.0,494.0 L319.5,494.1 L321.1,494.2 L322.7,494.5 L324.3,494.8 L325.9,495.2 L327.5,495.8 L329.1,496.3 L330.6,497.0 L332.1,497.7 L333.5,498.4 L334.8,499.2 L336.0,500.0 L337.2,500.9 L338.4,501.9 L339.5,502.9 L340.7,504.1 L341.7,505.3 L342.8,506.5 L343.7,507.8 L344.4,509.0 L345.1,510.3 L345.6,511.6 L345.9,512.8 L346.0,514.0 L345.9,515.2 L345.6,516.4 L345.1,517.7 L344.5,519.0 L343.8,520.3 L342.9,521.6 L341.9,522.9 L340.8,524.1 L339.7,525.2 L338.5,526.2 L337.2,527.2 L336.0,528.0 L334.7,528.7 L333.2,529.4 L331.6,530.0 L329.9,530.6 L328.1,531.1 L326.2,531.5 L324.4,531.8 L322.6,532.1 L320.8,532.2 L319.1,532.3 L317.5,532.2 L316.0,532.0 L314.6,531.6 L313.2,531.0 L311.8,530.2 L310.4,529.3 L309.0,528.3 L307.8,527.2 L306.5,526.2 L305.4,525.1 L304.4,524.1 L303.5,523.2 L302.7,522.5 L302.0,522.0" fill="none" stroke="#7f3429" stroke-width="18" stroke-linecap="round" stroke-linejoin="round"/>
<path d="M300.0,500.0 L300.9,499.7 L302.0,499.2 L303.2,498.6 L304.7,498.0 L306.2,497.3 L307.9,496.6 L309.6,496.0 L311.3,495.3 L313.1,494.8 L314.8,494.4 L316.4,494.1 L318.0,494.0 L319.5,494.1 L321.1,494.2 L322.7,494.5 L324.3,494.8 L325.9,495.2 L327.5,495.8 L329.1,496.3 L330.6,497.0 L332.1,497.7 L333.5,498.4 L334.8,499.2 L336.0,500.0 L337.2,500.9 L338.4,501.9 L339.5,502.9 L340.7,504.1 L341.7,505.3 L342.8,506.5 L343.7,507.8 L344.4,509.0 L345.1,510.3 L345.6,511.6 L345.9,512.8 L346.0,514.0 L345.9,515.2 L345.6,516.4 L345.1,517.7 L344.5,519.0 L343.8,520.3 L342.9,521.6 L341.9,522.9 L340.8,524.1 L339.7,525.2 L338.5,526.2 L337.2,527.2 L336.0,528.0 L334.7,528.7 L333.2,529.4 L331.6,530.0 L329.9,530.6 L328.1,531.1 L326.2,531.5 L324.4,531.8 L322.6,532.1 L320.8,532.2 L319.1,532.3 L317.5,532.2 L316.0,532.0 L314.6,531.6 L313.2,531.0 L311.8,530.2 L310.4,529.3 L309.0,528.3 L307.8,527.2 L306.5,526.2 L305.4,525.1 L304.4,524.1 L303.5,523.2 L302.7,522.5 L302.0,522.0" fill="none" stroke="#eab0a0" stroke-width="15.2" stroke-linecap="round" stroke-linejoin="round"/>
<path d="M300.0,500.0 L300.9,499.7 L302.0,499.2 L303.2,498.6 L304.7,498.0 L306.2,497.3 L307.9,496.6 L309.6,496.0 L311.3,495.3 L313.1,494.8 L314.8,494.4 L316.4,494.1 L318.0,494.0 L319.5,494.1 L321.1,494.2 L322.7,494.5 L324.3,494.8 L325.9,495.2 L327.5,495.8 L329.1,496.3 L330.6,497.0 L332.1,497.7 L333.5,498.4 L334.8,499.2 L336.0,500.0 L337.2,500.9 L338.4,501.9 L339.5,502.9 L340.7,504.1 L341.7,505.3 L342.8,506.5 L343.7,507.8 L344.4,509.0 L345.1,510.3 L345.6,511.6 L345.9,512.8 L346.0,514.0 L345.9,515.2 L345.6,516.4 L345.1,517.7 L344.5,519.0 L343.8,520.3 L342.9,521.6 L341.9,522.9 L340.8,524.1 L339.7,525.2 L338.5,526.2 L337.2,527.2 L336.0,528.0 L334.7,528.7 L333.2,529.4 L331.6,530.0 L329.9,530.6 L328.1,531.1 L326.2,531.5 L324.4,531.8 L322.6,532.1 L320.8,532.2 L319.1,532.3 L317.5,532.2 L316.0,532.0 L314.6,531.6 L313.2,531.0 L311.8,530.2 L310.4,529.3 L309.0,528.3 L307.8,527.2 L306.5,526.2 L305.4,525.1 L304.4,524.1 L303.5,523.2 L302.7,522.5 L302.0,522.0" fill="none" stroke="#f4c6b7" stroke-width="10" stroke-linecap="round" stroke-linejoin="round" transform="translate(-0.8,-1.6)"/>
<path d="M300.0,500.0 L300.9,499.7 L302.0,499.2 L303.2,498.6 L304.7,498.0 L306.2,497.3 L307.9,496.6 L309.6,496.0 L311.3,495.3 L313.1,494.8 L314.8,494.4 L316.4,494.1 L318.0,494.0 L319.5,494.1 L321.1,494.2 L322.7,494.5 L324.3,494.8 L325.9,495.2 L327.5,495.8 L329.1,496.3 L330.6,497.0 L332.1,497.7 L333.5,498.4 L334.8,499.2 L336.0,500.0 L337.2,500.9 L338.4,501.9 L339.5,502.9 L340.7,504.1 L341.7,505.3 L342.8,506.5 L343.7,507.8 L344.4,509.0 L345.1,510.3 L345.6,511.6 L345.9,512.8 L346.0,514.0 L345.9,515.2 L345.6,516.4 L345.1,517.7 L344.5,519.0 L343.8,520.3 L342.9,521.6 L341.9,522.9 L340.8,524.1 L339.7,525.2 L338.5,526.2 L337.2,527.2 L336.0,528.0 L334.7,528.7 L333.2,529.4 L331.6,530.0 L329.9,530.6 L328.1,531.1 L326.2,531.5 L324.4,531.8 L322.6,532.1 L320.8,532.2 L319.1,532.3 L317.5,532.2 L316.0,532.0 L314.6,531.6 L313.2,531.0 L311.8,530.2 L310.4,529.3 L309.0,528.3 L307.8,527.2 L306.5,526.2 L305.4,525.1 L304.4,524.1 L303.5,523.2 L302.7,522.5 L302.0,522.0" fill="none" stroke="#f8d2c5" stroke-width="3" stroke-linecap="round" stroke-linejoin="round" transform="translate(-1.5,-3.5)" opacity="0.7"/>
<path d="M352.0,494.0 L352.9,493.9 L354.0,493.6 L355.3,493.3 L356.8,493.0 L358.4,492.6 L360.1,492.2 L361.9,491.9 L363.6,491.7 L365.4,491.6 L367.0,491.5 L368.6,491.7 L370.0,492.0 L371.4,492.5 L372.8,493.1 L374.2,493.9 L375.6,494.8 L377.0,495.8 L378.4,496.9 L379.6,498.0 L380.8,499.2 L381.9,500.4 L382.8,501.6 L383.5,502.8 L384.0,504.0 L384.2,505.2 L384.1,506.5 L383.8,507.9 L383.3,509.3 L382.6,510.7 L381.9,512.1 L381.2,513.6 L380.5,515.0 L380.0,516.3 L379.7,517.6 L379.7,518.9 L380.0,520.0 L380.6,521.1 L381.4,522.2 L382.5,523.3 L383.6,524.4 L384.9,525.4 L386.4,526.4 L387.9,527.3 L389.5,528.1 L391.1,528.8 L392.8,529.3 L394.4,529.7 L396.0,530.0 L397.6,530.1 L399.4,530.0 L401.3,529.8 L403.2,529.4 L405.1,528.9 L407.1,528.4 L409.1,527.7 L411.0,527.0 L412.9,526.3 L414.7,525.5 L416.4,524.8 L418.0,524.0 L419.4,523.2 L420.7,522.1 L421.9,521.0 L423.0,519.8 L424.1,518.5 L425.1,517.2 L426.1,516.0 L427.2,514.9 L428.3,513.9 L429.4,513.0 L430.6,512.4 L432.0,512.0 L433.5,511.9 L435.0,512.0 L436.6,512.3 L438.3,512.7 L440.0,513.3 L441.8,514.0 L443.5,514.7 L445.3,515.5 L447.0,516.2 L448.7,516.9 L450.4,517.5 L452.0,518.0 L453.6,518.4 L455.3,518.8 L457.1,519.2 L458.8,519.6 L460.6,520.0 L462.2,520.4 L463.9,520.7 L465.4,521.0 L466.8,521.3 L468.1,521.6 L469.1,521.8 L470.0,522.0" fill="none" stroke="#7f3429" stroke-width="18" stroke-linecap="round" stroke-linejoin="round"/>
<path d="M352.0,494.0 L352.9,493.9 L354.0,493.6 L355.3,493.3 L356.8,493.0 L358.4,492.6 L360.1,492.2 L361.9,491.9 L363.6,491.7 L365.4,491.6 L367.0,491.5 L368.6,491.7 L370.0,492.0 L371.4,492.5 L372.8,493.1 L374.2,493.9 L375.6,494.8 L377.0,495.8 L378.4,496.9 L379.6,498.0 L380.8,499.2 L381.9,500.4 L382.8,501.6 L383.5,502.8 L384.0,504.0 L384.2,505.2 L384.1,506.5 L383.8,507.9 L383.3,509.3 L382.6,510.7 L381.9,512.1 L381.2,513.6 L380.5,515.0 L380.0,516.3 L379.7,517.6 L379.7,518.9 L380.0,520.0 L380.6,521.1 L381.4,522.2 L382.5,523.3 L383.6,524.4 L384.9,525.4 L386.4,526.4 L387.9,527.3 L389.5,528.1 L391.1,528.8 L392.8,529.3 L394.4,529.7 L396.0,530.0 L397.6,530.1 L399.4,530.0 L401.3,529.8 L403.2,529.4 L405.1,528.9 L407.1,528.4 L409.1,527.7 L411.0,527.0 L412.9,526.3 L414.7,525.5 L416.4,524.8 L418.0,524.0 L419.4,523.2 L420.7,522.1 L421.9,521.0 L423.0,519.8 L424.1,518.5 L425.1,517.2 L426.1,516.0 L427.2,514.9 L428.3,513.9 L429.4,513.0 L430.6,512.4 L432.0,512.0 L433.5,511.9 L435.0,512.0 L436.6,512.3 L438.3,512.7 L440.0,513.3 L441.8,514.0 L443.5,514.7 L445.3,515.5 L447.0,516.2 L448.7,516.9 L450.4,517.5 L452.0,518.0 L453.6,518.4 L455.3,518.8 L457.1,519.2 L458.8,519.6 L460.6,520.0 L462.2,520.4 L463.9,520.7 L465.4,521.0 L466.8,521.3 L468.1,521.6 L469.1,521.8 L470.0,522.0" fill="none" stroke="#eab0a0" stroke-width="15.2" stroke-linecap="round" stroke-linejoin="round"/>
<path d="M352.0,494.0 L352.9,493.9 L354.0,493.6 L355.3,493.3 L356.8,493.0 L358.4,492.6 L360.1,492.2 L361.9,491.9 L363.6,491.7 L365.4,491.6 L367.0,491.5 L368.6,491.7 L370.0,492.0 L371.4,492.5 L372.8,493.1 L374.2,493.9 L375.6,494.8 L377.0,495.8 L378.4,496.9 L379.6,498.0 L380.8,499.2 L381.9,500.4 L382.8,501.6 L383.5,502.8 L384.0,504.0 L384.2,505.2 L384.1,506.5 L383.8,507.9 L383.3,509.3 L382.6,510.7 L381.9,512.1 L381.2,513.6 L380.5,515.0 L380.0,516.3 L379.7,517.6 L379.7,518.9 L380.0,520.0 L380.6,521.1 L381.4,522.2 L382.5,523.3 L383.6,524.4 L384.9,525.4 L386.4,526.4 L387.9,527.3 L389.5,528.1 L391.1,528.8 L392.8,529.3 L394.4,529.7 L396.0,530.0 L397.6,530.1 L399.4,530.0 L401.3,529.8 L403.2,529.4 L405.1,528.9 L407.1,528.4 L409.1,527.7 L411.0,527.0 L412.9,526.3 L414.7,525.5 L416.4,524.8 L418.0,524.0 L419.4,523.2 L420.7,522.1 L421.9,521.0 L423.0,519.8 L424.1,518.5 L425.1,517.2 L426.1,516.0 L427.2,514.9 L428.3,513.9 L429.4,513.0 L430.6,512.4 L432.0,512.0 L433.5,511.9 L435.0,512.0 L436.6,512.3 L438.3,512.7 L440.0,513.3 L441.8,514.0 L443.5,514.7 L445.3,515.5 L447.0,516.2 L448.7,516.9 L450.4,517.5 L452.0,518.0 L453.6,518.4 L455.3,518.8 L457.1,519.2 L458.8,519.6 L460.6,520.0 L462.2,520.4 L463.9,520.7 L465.4,521.0 L466.8,521.3 L468.1,521.6 L469.1,521.8 L470.0,522.0" fill="none" stroke="#f4c6b7" stroke-width="10" stroke-linecap="round" stroke-linejoin="round" transform="translate(-0.8,-1.6)"/>
<path d="M352.0,494.0 L352.9,493.9 L354.0,493.6 L355.3,493.3 L356.8,493.0 L358.4,492.6 L360.1,492.2 L361.9,491.9 L363.6,491.7 L365.4,491.6 L367.0,491.5 L368.6,491.7 L370.0,492.0 L371.4,492.5 L372.8,493.1 L374.2,493.9 L375.6,494.8 L377.0,495.8 L378.4,496.9 L379.6,498.0 L380.8,499.2 L381.9,500.4 L382.8,501.6 L383.5,502.8 L384.0,504.0 L384.2,505.2 L384.1,506.5 L383.8,507.9 L383.3,509.3 L382.6,510.7 L381.9,512.1 L381.2,513.6 L380.5,515.0 L380.0,516.3 L379.7,517.6 L379.7,518.9 L380.0,520.0 L380.6,521.1 L381.4,522.2 L382.5,523.3 L383.6,524.4 L384.9,525.4 L386.4,526.4 L387.9,527.3 L389.5,528.1 L391.1,528.8 L392.8,529.3 L394.4,529.7 L396.0,530.0 L397.6,530.1 L399.4,530.0 L401.3,529.8 L403.2,529.4 L405.1,528.9 L407.1,528.4 L409.1,527.7 L411.0,527.0 L412.9,526.3 L414.7,525.5 L416.4,524.8 L418.0,524.0 L419.4,523.2 L420.7,522.1 L421.9,521.0 L423.0,519.8 L424.1,518.5 L425.1,517.2 L426.1,516.0 L427.2,514.9 L428.3,513.9 L429.4,513.0 L430.6,512.4 L432.0,512.0 L433.5,511.9 L435.0,512.0 L436.6,512.3 L438.3,512.7 L440.0,513.3 L441.8,514.0 L443.5,514.7 L445.3,515.5 L447.0,516.2 L448.7,516.9 L450.4,517.5 L452.0,518.0 L453.6,518.4 L455.3,518.8 L457.1,519.2 L458.8,519.6 L460.6,520.0 L462.2,520.4 L463.9,520.7 L465.4,521.0 L466.8,521.3 L468.1,521.6 L469.1,521.8 L470.0,522.0" fill="none" stroke="#f8d2c5" stroke-width="3" stroke-linecap="round" stroke-linejoin="round" transform="translate(-1.5,-3.5)" opacity="0.7"/>
<path d="M406.0,486.0 L406.7,486.6 L407.5,487.3 L408.4,488.2 L409.4,489.2 L410.5,490.3 L411.8,491.4 L413.0,492.5 L414.4,493.7 L415.8,494.9 L417.2,496.0 L418.6,497.0 L420.0,498.0 L421.5,498.9 L423.2,499.9 L425.0,500.9 L427.0,501.9 L428.9,502.8 L430.9,503.8 L432.8,504.6 L434.6,505.5 L436.3,506.2 L437.8,506.9 L439.0,507.5 L440.0,508.0" fill="none" stroke="#7f3429" stroke-width="18" stroke-linecap="round" stroke-linejoin="round"/>
<path d="M406.0,486.0 L406.7,486.6 L407.5,487.3 L408.4,488.2 L409.4,489.2 L410.5,490.3 L411.8,491.4 L413.0,492.5 L414.4,493.7 L415.8,494.9 L417.2,496.0 L418.6,497.0 L420.0,498.0 L421.5,498.9 L423.2,499.9 L425.0,500.9 L427.0,501.9 L428.9,502.8 L430.9,503.8 L432.8,504.6 L434.6,505.5 L436.3,506.2 L437.8,506.9 L439.0,507.5 L440.0,508.0" fill="none" stroke="#eab0a0" stroke-width="15.2" stroke-linecap="round" stroke-linejoin="round"/>
<path d="M406.0,486.0 L406.7,486.6 L407.5,487.3 L408.4,488.2 L409.4,489.2 L410.5,490.3 L411.8,491.4 L413.0,492.5 L414.4,493.7 L415.8,494.9 L417.2,496.0 L418.6,497.0 L420.0,498.0 L421.5,498.9 L423.2,499.9 L425.0,500.9 L427.0,501.9 L428.9,502.8 L430.9,503.8 L432.8,504.6 L434.6,505.5 L436.3,506.2 L437.8,506.9 L439.0,507.5 L440.0,508.0" fill="none" stroke="#f4c6b7" stroke-width="10" stroke-linecap="round" stroke-linejoin="round" transform="translate(-0.8,-1.6)"/>
<path d="M406.0,486.0 L406.7,486.6 L407.5,487.3 L408.4,488.2 L409.4,489.2 L410.5,490.3 L411.8,491.4 L413.0,492.5 L414.4,493.7 L415.8,494.9 L417.2,496.0 L418.6,497.0 L420.0,498.0 L421.5,498.9 L423.2,499.9 L425.0,500.9 L427.0,501.9 L428.9,502.8 L430.9,503.8 L432.8,504.6 L434.6,505.5 L436.3,506.2 L437.8,506.9 L439.0,507.5 L440.0,508.0" fill="none" stroke="#f8d2c5" stroke-width="3" stroke-linecap="round" stroke-linejoin="round" transform="translate(-1.5,-3.5)" opacity="0.7"/>
<path d="M318.0,542.0 L319.2,542.0 L320.7,542.1 L322.4,542.1 L324.4,542.2 L326.5,542.3 L328.8,542.4 L331.1,542.4 L333.4,542.4 L335.7,542.4 L338.0,542.3 L340.1,542.2 L342.0,542.0 L343.8,541.7 L345.5,541.2 L347.2,540.7 L348.8,540.0 L350.4,539.4 L352.0,538.7 L353.6,538.0 L355.2,537.4 L356.8,536.9 L358.5,536.4 L360.2,536.1 L362.0,536.0 L363.9,536.1 L365.8,536.3 L367.7,536.7 L369.7,537.1 L371.7,537.7 L373.8,538.3 L375.8,538.9 L377.9,539.5 L379.9,540.1 L382.0,540.5 L384.0,540.8 L386.0,541.0 L388.1,541.0 L390.3,540.9 L392.6,540.7 L394.9,540.5 L397.2,540.2 L399.5,539.8 L401.7,539.4 L403.8,539.1 L405.7,538.7 L407.4,538.4 L408.8,538.2 L410.0,538.0" fill="none" stroke="#7f3429" stroke-width="18" stroke-linecap="round" stroke-linejoin="round"/>
<path d="M318.0,542.0 L319.2,542.0 L320.7,542.1 L322.4,542.1 L324.4,542.2 L326.5,542.3 L328.8,542.4 L331.1,542.4 L333.4,542.4 L335.7,542.4 L338.0,542.3 L340.1,542.2 L342.0,542.0 L343.8,541.7 L345.5,541.2 L347.2,540.7 L348.8,540.0 L350.4,539.4 L352.0,538.7 L353.6,538.0 L355.2,537.4 L356.8,536.9 L358.5,536.4 L360.2,536.1 L362.0,536.0 L363.9,536.1 L365.8,536.3 L367.7,536.7 L369.7,537.1 L371.7,537.7 L373.8,538.3 L375.8,538.9 L377.9,539.5 L379.9,540.1 L382.0,540.5 L384.0,540.8 L386.0,541.0 L388.1,541.0 L390.3,540.9 L392.6,540.7 L394.9,540.5 L397.2,540.2 L399.5,539.8 L401.7,539.4 L403.8,539.1 L405.7,538.7 L407.4,538.4 L408.8,538.2 L410.0,538.0" fill="none" stroke="#eab0a0" stroke-width="15.2" stroke-linecap="round" stroke-linejoin="round"/>
<path d="M318.0,542.0 L319.2,542.0 L320.7,542.1 L322.4,542.1 L324.4,542.2 L326.5,542.3 L328.8,542.4 L331.1,542.4 L333.4,542.4 L335.7,542.4 L338.0,542.3 L340.1,542.2 L342.0,542.0 L343.8,541.7 L345.5,541.2 L347.2,540.7 L348.8,540.0 L350.4,539.4 L352.0,538.7 L353.6,538.0 L355.2,537.4 L356.8,536.9 L358.5,536.4 L360.2,536.1 L362.0,536.0 L363.9,536.1 L365.8,536.3 L367.7,536.7 L369.7,537.1 L371.7,537.7 L373.8,538.3 L375.8,538.9 L377.9,539.5 L379.9,540.1 L382.0,540.5 L384.0,540.8 L386.0,541.0 L388.1,541.0 L390.3,540.9 L392.6,540.7 L394.9,540.5 L397.2,540.2 L399.5,539.8 L401.7,539.4 L403.8,539.1 L405.7,538.7 L407.4,538.4 L408.8,538.2 L410.0,538.0" fill="none" stroke="#f4c6b7" stroke-width="10" stroke-linecap="round" stroke-linejoin="round" transform="translate(-0.8,-1.6)"/>
<path d="M318.0,542.0 L319.2,542.0 L320.7,542.1 L322.4,542.1 L324.4,542.2 L326.5,542.3 L328.8,542.4 L331.1,542.4 L333.4,542.4 L335.7,542.4 L338.0,542.3 L340.1,542.2 L342.0,542.0 L343.8,541.7 L345.5,541.2 L347.2,540.7 L348.8,540.0 L350.4,539.4 L352.0,538.7 L353.6,538.0 L355.2,537.4 L356.8,536.9 L358.5,536.4 L360.2,536.1 L362.0,536.0 L363.9,536.1 L365.8,536.3 L367.7,536.7 L369.7,537.1 L371.7,537.7 L373.8,538.3 L375.8,538.9 L377.9,539.5 L379.9,540.1 L382.0,540.5 L384.0,540.8 L386.0,541.0 L388.1,541.0 L390.3,540.9 L392.6,540.7 L394.9,540.5 L397.2,540.2 L399.5,539.8 L401.7,539.4 L403.8,539.1 L405.7,538.7 L407.4,538.4 L408.8,538.2 L410.0,538.0" fill="none" stroke="#f8d2c5" stroke-width="3" stroke-linecap="round" stroke-linejoin="round" transform="translate(-1.5,-3.5)" opacity="0.7"/>
<defs><filter id="ero" x="-10%" y="-10%" width="120%" height="120%"><feMorphology operator="erode" radius="6"/><feGaussianBlur stdDeviation="1.6"/></filter></defs>
<path d="M380,160 L380,174 C380,200 386,222 400,236 C408,245 409,258 408,268 C406,284 398,294 380,300 C368,303 358,300 350,298 C340,298 330,300 322,308 C315,318 314,335 316,348 L318,362 L333,362 L332,345 C331,334 333,328 340,326 C346,324 350,326 354,330 C362,337 378,347 400,349.5 C422,351 446,344 462,333 C474,324 484,310 488,292 C491,278 491,264 489,250 C487,232 480,215 466,209 C450,203 434,207 423,215.5 L415.5,222 C406,215 398.5,202 397,174 L397,160 Z" fill="#e49c8b" stroke="none"/>
<path d="M380,160 L380,174 C380,200 386,222 400,236 C408,245 409,258 408,268 C406,284 398,294 380,300 C368,303 358,300 350,298 C340,298 330,300 322,308 C315,318 314,335 316,348 L318,362 L333,362 L332,345 C331,334 333,328 340,326 C346,324 350,326 354,330 C362,337 378,347 400,349.5 C422,351 446,344 462,333 C474,324 484,310 488,292 C491,278 491,264 489,250 C487,232 480,215 466,209 C450,203 434,207 423,215.5 L415.5,222 C406,215 398.5,202 397,174 L397,160 Z" fill="#f3bdac" stroke="none" filter="url(#ero)" transform="translate(-3,-2.5)"/>
<path d="M380,166 L380,185 C380,205 386,222 400,236 C408,245 409,258 408,268 C406,284 398,294 380,300 C368,303 358,300 350,298 C340,298 330,300 322,308 C315,318 314,335 316,348 L318,362 M332.5,351 L332,345 C331,334 333,328 340,326 C346,324 350,326 354,330 C362,337 378,347 400,349.5 C422,351 446,344 462,333 C474,324 484,310 488,292 C491,278 491,264 489,250 C487,232 480,215 466,209 C450,203 434,207 423,215.5 L415.5,222 C406,215 398.5,202 397,185 L397,166" fill="none" stroke="#76302a" stroke-width="1.6"/>
<rect x="372" y="158" width="34" height="42" fill="url(#bgFade)"/>
<path d="M421,252 C424,285 414,310 388,324" fill="none" stroke="#f8d3c7" stroke-width="4" stroke-linecap="round" opacity="0.9"/>
<path d="M317,355 L332.7,355 C334,361 340,363 352,363 C365,362.5 380,361 400,362.5 C415,364 430,367 446,374 L446,396 L317,396 Z" fill="#eba999"/>
<path d="M332.5,350 C333,360 340,363 352,363 C365,362.5 380,361 400,362.5 C415,364 430,367 446,374" fill="none" stroke="#76302a" stroke-width="1.6"/>
<path d="M300,540 C305,548 312,556 314,566 C315,572 319,575 322,572" fill="none" stroke="#6f2a20" stroke-width="6.5" stroke-linecap="round"/>
<path d="M300,540 C305,548 312,556 314,566 C315,572 319,575 322,572" fill="none" stroke="#d98a74" stroke-width="3.8" stroke-linecap="round"/>
<circle cx="281.0" cy="530.0" r="28.0" fill="#d4836d" stroke="#5f1f16" stroke-width="1.8"/>
<ellipse cx="295.7" cy="512.6" rx="12.3" ry="10.0" transform="rotate(-110.9 295.7 512.6)" fill="#d4836d" stroke="#5f1f16" stroke-width="1.8"/>
<ellipse cx="258.0" cy="527.0" rx="12.3" ry="10.0" transform="rotate(-110.9 258.0 527.0)" fill="#d4836d" stroke="#5f1f16" stroke-width="1.8"/>
<ellipse cx="283.7" cy="496.3" rx="12.3" ry="10.0" transform="rotate(-100.6 283.7 496.3)" fill="#d4836d" stroke="#5f1f16" stroke-width="1.8"/>
<ellipse cx="257.8" cy="501.2" rx="12.3" ry="10.0" transform="rotate(-100.6 257.8 501.2)" fill="#d4836d" stroke="#5f1f16" stroke-width="1.8"/>
<ellipse cx="281.1" cy="475.8" rx="12.3" ry="10.0" transform="rotate(-94.7 281.1 475.8)" fill="#d4836d" stroke="#5f1f16" stroke-width="1.8"/>
<ellipse cx="254.8" cy="478.0" rx="12.3" ry="10.0" transform="rotate(-94.7 254.8 478.0)" fill="#d4836d" stroke="#5f1f16" stroke-width="1.8"/>
<ellipse cx="280.3" cy="454.9" rx="12.3" ry="10.0" transform="rotate(-90.2 280.3 454.9)" fill="#d4836d" stroke="#5f1f16" stroke-width="1.8"/>
<ellipse cx="253.9" cy="455.0" rx="12.3" ry="10.0" transform="rotate(-90.2 253.9 455.0)" fill="#d4836d" stroke="#5f1f16" stroke-width="1.8"/>
<ellipse cx="280.7" cy="433.1" rx="12.3" ry="10.0" transform="rotate(-89.2 280.7 433.1)" fill="#d4836d" stroke="#5f1f16" stroke-width="1.8"/>
<ellipse cx="254.3" cy="432.8" rx="12.3" ry="10.0" transform="rotate(-89.2 254.3 432.8)" fill="#d4836d" stroke="#5f1f16" stroke-width="1.8"/>
<ellipse cx="280.8" cy="411.2" rx="12.3" ry="10.0" transform="rotate(-88.8 280.8 411.2)" fill="#d4836d" stroke="#5f1f16" stroke-width="1.8"/>
<ellipse cx="254.4" cy="410.7" rx="12.3" ry="10.0" transform="rotate(-88.8 254.4 410.7)" fill="#d4836d" stroke="#5f1f16" stroke-width="1.8"/>
<ellipse cx="282.2" cy="391.0" rx="12.3" ry="10.0" transform="rotate(-81.2 282.2 391.0)" fill="#d4836d" stroke="#5f1f16" stroke-width="1.8"/>
<ellipse cx="256.2" cy="387.0" rx="12.3" ry="10.0" transform="rotate(-81.2 256.2 387.0)" fill="#d4836d" stroke="#5f1f16" stroke-width="1.8"/>
<ellipse cx="281.1" cy="386.7" rx="12.3" ry="10.0" transform="rotate(-4.0 281.1 386.7)" fill="#d4836d" stroke="#5f1f16" stroke-width="1.8"/>
<ellipse cx="279.2" cy="360.4" rx="12.3" ry="10.0" transform="rotate(-4.0 279.2 360.4)" fill="#d4836d" stroke="#5f1f16" stroke-width="1.8"/>
<ellipse cx="297.5" cy="392.0" rx="12.3" ry="10.0" transform="rotate(17.0 297.5 392.0)" fill="#d4836d" stroke="#5f1f16" stroke-width="1.8"/>
<ellipse cx="304.6" cy="368.6" rx="12.3" ry="10.0" transform="rotate(17.0 304.6 368.6)" fill="#d4836d" stroke="#5f1f16" stroke-width="1.8"/>
<ellipse cx="318.9" cy="398.2" rx="12.3" ry="10.0" transform="rotate(15.9 318.9 398.2)" fill="#d4836d" stroke="#5f1f16" stroke-width="1.8"/>
<ellipse cx="325.5" cy="374.7" rx="12.3" ry="10.0" transform="rotate(15.9 325.5 374.7)" fill="#d4836d" stroke="#5f1f16" stroke-width="1.8"/>
<ellipse cx="341.1" cy="403.7" rx="12.3" ry="10.0" transform="rotate(11.6 341.1 403.7)" fill="#d4836d" stroke="#5f1f16" stroke-width="1.8"/>
<ellipse cx="346.0" cy="379.8" rx="12.3" ry="10.0" transform="rotate(11.6 346.0 379.8)" fill="#d4836d" stroke="#5f1f16" stroke-width="1.8"/>
<ellipse cx="363.8" cy="407.5" rx="12.3" ry="10.0" transform="rotate(6.8 363.8 407.5)" fill="#d4836d" stroke="#5f1f16" stroke-width="1.8"/>
<ellipse cx="366.7" cy="383.3" rx="12.3" ry="10.0" transform="rotate(6.8 366.7 383.3)" fill="#d4836d" stroke="#5f1f16" stroke-width="1.8"/>
<ellipse cx="387.4" cy="408.7" rx="12.3" ry="10.0" transform="rotate(-0.8 387.4 408.7)" fill="#d4836d" stroke="#5f1f16" stroke-width="1.8"/>
<ellipse cx="387.0" cy="384.3" rx="12.3" ry="10.0" transform="rotate(-0.8 387.0 384.3)" fill="#d4836d" stroke="#5f1f16" stroke-width="1.8"/>
<ellipse cx="410.8" cy="407.0" rx="12.3" ry="10.0" transform="rotate(-7.9 410.8 407.0)" fill="#d4836d" stroke="#5f1f16" stroke-width="1.8"/>
<ellipse cx="407.4" cy="382.8" rx="12.3" ry="10.0" transform="rotate(-7.9 407.4 382.8)" fill="#d4836d" stroke="#5f1f16" stroke-width="1.8"/>
<ellipse cx="434.5" cy="401.6" rx="12.3" ry="10.0" transform="rotate(-18.8 434.5 401.6)" fill="#d4836d" stroke="#5f1f16" stroke-width="1.8"/>
<ellipse cx="426.6" cy="378.5" rx="12.3" ry="10.0" transform="rotate(-18.8 426.6 378.5)" fill="#d4836d" stroke="#5f1f16" stroke-width="1.8"/>
<ellipse cx="456.9" cy="391.1" rx="12.3" ry="10.0" transform="rotate(-31.9 456.9 391.1)" fill="#d4836d" stroke="#5f1f16" stroke-width="1.8"/>
<ellipse cx="444.0" cy="370.4" rx="12.3" ry="10.0" transform="rotate(-31.9 444.0 370.4)" fill="#d4836d" stroke="#5f1f16" stroke-width="1.8"/>
<ellipse cx="476.1" cy="375.4" rx="12.3" ry="10.0" transform="rotate(-45.6 476.1 375.4)" fill="#d4836d" stroke="#5f1f16" stroke-width="1.8"/>
<ellipse cx="458.7" cy="358.3" rx="12.3" ry="10.0" transform="rotate(-45.6 458.7 358.3)" fill="#d4836d" stroke="#5f1f16" stroke-width="1.8"/>
<ellipse cx="490.6" cy="355.9" rx="12.3" ry="10.0" transform="rotate(-56.8 490.6 355.9)" fill="#d4836d" stroke="#5f1f16" stroke-width="1.8"/>
<ellipse cx="471.0" cy="343.1" rx="12.3" ry="10.0" transform="rotate(-56.8 471.0 343.1)" fill="#d4836d" stroke="#5f1f16" stroke-width="1.8"/>
<ellipse cx="493.3" cy="343.9" rx="12.3" ry="10.0" transform="rotate(1.6 493.3 343.9)" fill="#d4836d" stroke="#5f1f16" stroke-width="1.8"/>
<ellipse cx="494.0" cy="319.5" rx="12.3" ry="10.0" transform="rotate(1.6 494.0 319.5)" fill="#d4836d" stroke="#5f1f16" stroke-width="1.8"/>
<ellipse cx="484.8" cy="351.3" rx="12.3" ry="10.0" transform="rotate(91.4 484.8 351.3)" fill="#d4836d" stroke="#5f1f16" stroke-width="1.8"/>
<ellipse cx="508.2" cy="351.8" rx="12.3" ry="10.0" transform="rotate(91.4 508.2 351.8)" fill="#d4836d" stroke="#5f1f16" stroke-width="1.8"/>
<ellipse cx="484.3" cy="373.3" rx="12.3" ry="10.0" transform="rotate(91.2 484.3 373.3)" fill="#d4836d" stroke="#5f1f16" stroke-width="1.8"/>
<ellipse cx="507.6" cy="373.8" rx="12.3" ry="10.0" transform="rotate(91.2 507.6 373.8)" fill="#d4836d" stroke="#5f1f16" stroke-width="1.8"/>
<ellipse cx="483.7" cy="395.2" rx="12.3" ry="10.0" transform="rotate(91.4 483.7 395.2)" fill="#d4836d" stroke="#5f1f16" stroke-width="1.8"/>
<ellipse cx="507.1" cy="395.8" rx="12.3" ry="10.0" transform="rotate(91.4 507.1 395.8)" fill="#d4836d" stroke="#5f1f16" stroke-width="1.8"/>
<ellipse cx="483.3" cy="417.5" rx="12.3" ry="10.0" transform="rotate(90.2 483.3 417.5)" fill="#d4836d" stroke="#5f1f16" stroke-width="1.8"/>
<ellipse cx="506.7" cy="417.6" rx="12.3" ry="10.0" transform="rotate(90.2 506.7 417.6)" fill="#d4836d" stroke="#5f1f16" stroke-width="1.8"/>
<ellipse cx="483.6" cy="439.8" rx="12.3" ry="10.0" transform="rotate(88.5 483.6 439.8)" fill="#d4836d" stroke="#5f1f16" stroke-width="1.8"/>
<ellipse cx="507.0" cy="439.2" rx="12.3" ry="10.0" transform="rotate(88.5 507.0 439.2)" fill="#d4836d" stroke="#5f1f16" stroke-width="1.8"/>
<ellipse cx="484.2" cy="461.7" rx="12.3" ry="10.0" transform="rotate(89.1 484.2 461.7)" fill="#d4836d" stroke="#5f1f16" stroke-width="1.8"/>
<ellipse cx="507.6" cy="461.3" rx="12.3" ry="10.0" transform="rotate(89.1 507.6 461.3)" fill="#d4836d" stroke="#5f1f16" stroke-width="1.8"/>
<ellipse cx="484.4" cy="483.6" rx="12.3" ry="10.0" transform="rotate(89.7 484.4 483.6)" fill="#d4836d" stroke="#5f1f16" stroke-width="1.8"/>
<ellipse cx="507.8" cy="483.4" rx="12.3" ry="10.0" transform="rotate(89.7 507.8 483.4)" fill="#d4836d" stroke="#5f1f16" stroke-width="1.8"/>
<ellipse cx="484.3" cy="505.1" rx="12.3" ry="10.0" transform="rotate(92.0 484.3 505.1)" fill="#d4836d" stroke="#5f1f16" stroke-width="1.8"/>
<ellipse cx="507.7" cy="505.9" rx="12.3" ry="10.0" transform="rotate(92.0 507.7 505.9)" fill="#d4836d" stroke="#5f1f16" stroke-width="1.8"/>
<ellipse cx="482.4" cy="525.5" rx="12.3" ry="10.0" transform="rotate(99.4 482.4 525.5)" fill="#d4836d" stroke="#5f1f16" stroke-width="1.8"/>
<ellipse cx="505.5" cy="529.3" rx="12.3" ry="10.0" transform="rotate(99.4 505.5 529.3)" fill="#d4836d" stroke="#5f1f16" stroke-width="1.8"/>
<ellipse cx="477.8" cy="542.9" rx="12.3" ry="10.0" transform="rotate(118.8 477.8 542.9)" fill="#d4836d" stroke="#5f1f16" stroke-width="1.8"/>
<ellipse cx="498.3" cy="554.1" rx="12.3" ry="10.0" transform="rotate(118.8 498.3 554.1)" fill="#d4836d" stroke="#5f1f16" stroke-width="1.8"/>
<ellipse cx="467.0" cy="551.4" rx="12.3" ry="10.0" transform="rotate(156.4 467.0 551.4)" fill="#d4836d" stroke="#5f1f16" stroke-width="1.8"/>
<ellipse cx="476.8" cy="573.8" rx="12.3" ry="10.0" transform="rotate(156.4 476.8 573.8)" fill="#d4836d" stroke="#5f1f16" stroke-width="1.8"/>
<ellipse cx="450.4" cy="554.5" rx="12.3" ry="10.0" transform="rotate(179.8 450.4 554.5)" fill="#d4836d" stroke="#5f1f16" stroke-width="1.8"/>
<ellipse cx="450.5" cy="578.9" rx="12.3" ry="10.0" transform="rotate(179.8 450.5 578.9)" fill="#d4836d" stroke="#5f1f16" stroke-width="1.8"/>
<ellipse cx="432.0" cy="551.8" rx="12.3" ry="10.0" transform="rotate(-164.6 432.0 551.8)" fill="#d4836d" stroke="#5f1f16" stroke-width="1.8"/>
<ellipse cx="425.5" cy="575.3" rx="12.3" ry="10.0" transform="rotate(-164.6 425.5 575.3)" fill="#d4836d" stroke="#5f1f16" stroke-width="1.8"/>
<ellipse cx="412.6" cy="544.7" rx="12.3" ry="10.0" transform="rotate(-158.3 412.6 544.7)" fill="#d4836d" stroke="#5f1f16" stroke-width="1.8"/>
<ellipse cx="403.6" cy="567.4" rx="12.3" ry="10.0" transform="rotate(-158.3 403.6 567.4)" fill="#d4836d" stroke="#5f1f16" stroke-width="1.8"/>
<path d="M281.0,530.0L279.9,527.2M279.9,527.2L278.7,524.4M278.7,524.4L277.6,521.7M277.6,521.7L276.5,518.9M276.5,518.9L275.4,516.1M275.4,516.1L274.4,513.3M274.4,513.3L273.5,510.4M273.5,510.4L272.6,507.5M272.6,507.5L271.9,504.6M271.9,504.6L271.3,501.7M271.3,501.7L270.7,498.7" fill="none" stroke="#d4836d" stroke-width="49" stroke-linecap="round"/>
<path d="M270.7,498.7L270.2,495.8M270.2,495.8L269.8,492.8M269.8,492.8L269.4,489.8M269.4,489.8L269.0,486.9M269.0,486.9L268.7,483.9M268.7,483.9L268.3,480.9M268.3,480.9L268.1,477.9M268.1,477.9L267.8,474.9M267.8,474.9L267.6,471.9M267.6,471.9L267.4,468.9M267.4,468.9L267.3,465.9M267.3,465.9L267.2,462.9M267.2,462.9L267.2,459.9M267.2,459.9L267.1,456.9M267.1,456.9L267.1,453.9M267.1,453.9L267.1,450.9M267.1,450.9L267.2,447.9M267.2,447.9L267.2,444.9M267.2,444.9L267.3,441.9M267.3,441.9L267.3,438.9M267.3,438.9L267.4,435.9M267.4,435.9L267.5,432.9M267.5,432.9L267.5,429.9M267.5,429.9L267.5,426.9M267.5,426.9L267.5,423.9M267.5,423.9L267.6,420.9M267.6,420.9L267.6,417.9M267.6,417.9L267.6,414.9M267.6,414.9L267.6,411.9M267.6,411.9L267.6,408.9M267.6,408.9L267.7,405.9M267.7,405.9L267.8,402.9M267.8,402.9L268.0,399.9M268.0,399.9L268.3,397.0M268.3,397.0L268.6,394.0M268.6,394.0L269.0,391.0M269.0,391.0L269.3,388.0M269.3,388.0L269.7,385.0M269.7,385.0L270.2,382.1M270.2,382.1L271.0,379.2M271.0,379.2L272.3,376.5M272.3,376.5L274.4,374.4M274.4,374.4L277.2,373.4M277.2,373.4L280.2,373.6M280.2,373.6L283.1,374.3M283.1,374.3L285.9,375.2M285.9,375.2L288.8,376.2M288.8,376.2L291.6,377.3M291.6,377.3L294.4,378.3M294.4,378.3L297.2,379.2M297.2,379.2L300.1,380.0" fill="none" stroke="#d4836d" stroke-width="35" stroke-linecap="round"/>
<path d="M300.1,380.0L303.0,380.8M303.0,380.8L305.9,381.6M305.9,381.6L308.8,382.5M308.8,382.5L311.7,383.3M311.7,383.3L314.5,384.2M314.5,384.2L317.4,385.0M317.4,385.0L320.3,385.9M320.3,385.9L323.2,386.7M323.2,386.7L326.1,387.5M326.1,387.5L328.9,388.3M328.9,388.3L331.9,389.1M331.9,389.1L334.8,389.8M334.8,389.8L337.7,390.5M337.7,390.5L340.6,391.1M340.6,391.1L343.6,391.7M343.6,391.7L346.5,392.3M346.5,392.3L349.4,392.9M349.4,392.9L352.4,393.4M352.4,393.4L355.4,393.9M355.4,393.9L358.3,394.4M358.3,394.4L361.3,394.8M361.3,394.8L364.3,395.2M364.3,395.2L367.2,395.6M367.2,395.6L370.2,395.9M370.2,395.9L373.2,396.2M373.2,396.2L376.2,396.3M376.2,396.3L379.2,396.5M379.2,396.5L382.2,396.5M382.2,396.5L385.2,396.6M385.2,396.6L388.2,396.5M388.2,396.5L391.2,396.4M391.2,396.4L394.2,396.3M394.2,396.3L397.2,396.1M397.2,396.1L400.2,395.9M400.2,395.9L403.2,395.6M403.2,395.6L406.1,395.3M406.1,395.3L409.1,394.9M409.1,394.9L412.1,394.5M412.1,394.5L415.1,394.0M415.1,394.0L418.0,393.4M418.0,393.4L420.9,392.8M420.9,392.8L423.8,392.1M423.8,392.1L426.7,391.3M426.7,391.3L429.6,390.4M429.6,390.4L432.4,389.4M432.4,389.4L435.2,388.3M435.2,388.3L438.0,387.2M438.0,387.2L440.7,385.9M440.7,385.9L443.4,384.6M443.4,384.6L446.1,383.2M446.1,383.2L448.7,381.8M448.7,381.8L451.3,380.2M451.3,380.2L453.8,378.6M453.8,378.6L456.2,376.8M456.2,376.8L458.6,375.0M458.6,375.0L460.9,373.0M460.9,373.0L463.1,371.0M463.1,371.0L465.3,369.0M465.3,369.0L467.4,366.9M467.4,366.9L469.5,364.7M469.5,364.7L471.5,362.5M471.5,362.5L473.5,360.2M473.5,360.2L475.3,357.8M475.3,357.8L477.0,355.4M485.0,342.7L486.8,340.3M486.8,340.3L488.6,337.9M488.6,337.9L490.4,335.5M490.4,335.5L492.2,333.1M492.2,333.1L494.5,331.3M494.5,331.3L496.1,333.6M496.1,333.6L496.5,336.6M496.5,336.6L496.7,339.5M496.7,339.5L496.7,342.5M496.7,342.5L496.7,345.5M475.5,561.0L472.8,562.2M472.8,562.2L470.0,563.3M470.0,563.3L467.2,564.3M467.2,564.3L464.3,565.2M464.3,565.2L461.4,565.9M461.4,565.9L458.4,566.3M458.4,566.3L455.4,566.6M455.4,566.6L452.4,566.7M452.4,566.7L449.4,566.7M449.4,566.7L446.4,566.5M446.4,566.5L443.4,566.3M443.4,566.3L440.5,566.0M440.5,566.0L437.5,565.6M437.5,565.6L434.5,565.1M434.5,565.1L431.6,564.3M431.6,564.3L428.7,563.5M428.7,563.5L425.9,562.6M425.9,562.6L423.0,561.7M423.0,561.7L420.2,560.7M420.2,560.7L417.3,559.8M417.3,559.8L414.5,558.8M414.5,558.8L411.7,557.7M411.7,557.7L409.0,556.4" fill="none" stroke="#d4836d" stroke-width="33" stroke-linecap="round"/>
<path d="M477.0,355.4L478.7,352.9M478.7,352.9L480.3,350.3M480.3,350.3L481.8,347.8M481.8,347.8L483.4,345.2M483.4,345.2L485.0,342.7M496.7,345.5L496.6,348.5M496.6,348.5L496.5,351.5M496.5,351.5L496.4,354.5M496.4,354.5L496.3,357.5M496.3,357.5L496.2,360.5M496.2,360.5L496.1,363.5M496.1,363.5L496.1,366.5M496.1,366.5L496.0,369.5M496.0,369.5L496.0,372.5M496.0,372.5L495.9,375.5M495.9,375.5L495.8,378.5M495.8,378.5L495.8,381.5M495.8,381.5L495.7,384.5M495.7,384.5L495.6,387.5M495.6,387.5L495.5,390.5M495.5,390.5L495.5,393.5M495.5,393.5L495.4,396.5M495.4,396.5L495.3,399.5M495.3,399.5L495.2,402.5M495.2,402.5L495.2,405.5M495.2,405.5L495.1,408.5M495.1,408.5L495.1,411.5M495.1,411.5L495.0,414.5M495.0,414.5L495.0,417.5M495.0,417.5L495.0,420.5M495.0,420.5L495.0,423.5M495.0,423.5L495.0,426.5M495.0,426.5L495.1,429.5M495.1,429.5L495.2,432.5M495.2,432.5L495.2,435.5M495.2,435.5L495.3,438.5M495.3,438.5L495.4,441.5M495.4,441.5L495.5,444.5M495.5,444.5L495.6,447.5M495.6,447.5L495.7,450.5M495.7,450.5L495.7,453.5M495.7,453.5L495.8,456.5M495.8,456.5L495.9,459.5M495.9,459.5L495.9,462.5M495.9,462.5L496.0,465.5M496.0,465.5L496.0,468.5M496.0,468.5L496.0,471.5M496.0,471.5L496.0,474.5M496.0,474.5L496.0,477.5M496.0,477.5L496.1,480.5M496.1,480.5L496.1,483.5M496.1,483.5L496.1,486.5M496.1,486.5L496.1,489.5M496.1,489.5L496.1,492.5M496.1,492.5L496.1,495.5M496.1,495.5L496.1,498.5M496.1,498.5L496.1,501.5M496.1,501.5L496.0,504.5M496.0,504.5L495.9,507.5M495.9,507.5L495.8,510.5M495.8,510.5L495.6,513.5M495.6,513.5L495.4,516.5M495.4,516.5L495.1,519.5M495.1,519.5L494.7,522.5M494.7,522.5L494.3,525.4M494.3,525.4L493.8,528.4M493.8,528.4L493.3,531.3M493.3,531.3L492.7,534.3M492.7,534.3L492.0,537.2M492.0,537.2L491.2,540.1M491.2,540.1L490.3,543.0M490.3,543.0L489.3,545.8M489.3,545.8L488.0,548.5M488.0,548.5L486.6,551.1M486.6,551.1L484.8,553.6M484.8,553.6L482.8,555.8M482.8,555.8L480.6,557.8M480.6,557.8L478.1,559.5M478.1,559.5L475.5,561.0" fill="none" stroke="#d4836d" stroke-width="32" stroke-linecap="round"/>
<ellipse cx="289.4" cy="515.0" rx="10.3" ry="14.0" transform="rotate(-110.9 289.4 515.0)" fill="url(#haus)"/>
<ellipse cx="264.3" cy="524.6" rx="10.3" ry="14.0" transform="rotate(-110.9 264.3 524.6)" fill="url(#haus)"/>
<ellipse cx="280.6" cy="496.9" rx="10.3" ry="10.5" transform="rotate(-100.6 280.6 496.9)" fill="url(#haus)"/>
<ellipse cx="260.8" cy="500.6" rx="10.3" ry="10.5" transform="rotate(-100.6 260.8 500.6)" fill="url(#haus)"/>
<ellipse cx="278.0" cy="476.1" rx="10.3" ry="10.5" transform="rotate(-94.7 278.0 476.1)" fill="url(#haus)"/>
<ellipse cx="257.9" cy="477.7" rx="10.3" ry="10.5" transform="rotate(-94.7 257.9 477.7)" fill="url(#haus)"/>
<ellipse cx="277.2" cy="454.9" rx="10.3" ry="10.5" transform="rotate(-90.2 277.2 454.9)" fill="url(#haus)"/>
<ellipse cx="257.0" cy="455.0" rx="10.3" ry="10.5" transform="rotate(-90.2 257.0 455.0)" fill="url(#haus)"/>
<ellipse cx="277.5" cy="433.1" rx="10.3" ry="10.5" transform="rotate(-89.2 277.5 433.1)" fill="url(#haus)"/>
<ellipse cx="257.4" cy="432.8" rx="10.3" ry="10.5" transform="rotate(-89.2 257.4 432.8)" fill="url(#haus)"/>
<ellipse cx="277.7" cy="411.1" rx="10.3" ry="10.5" transform="rotate(-88.8 277.7 411.1)" fill="url(#haus)"/>
<ellipse cx="257.5" cy="410.7" rx="10.3" ry="10.5" transform="rotate(-88.8 257.5 410.7)" fill="url(#haus)"/>
<ellipse cx="279.2" cy="390.6" rx="10.3" ry="10.5" transform="rotate(-81.2 279.2 390.6)" fill="url(#haus)"/>
<ellipse cx="259.2" cy="387.5" rx="10.3" ry="10.5" transform="rotate(-81.2 259.2 387.5)" fill="url(#haus)"/>
<ellipse cx="280.9" cy="383.6" rx="10.3" ry="10.5" transform="rotate(-4.0 280.9 383.6)" fill="url(#haus)"/>
<ellipse cx="279.5" cy="363.5" rx="10.3" ry="10.5" transform="rotate(-4.0 279.5 363.5)" fill="url(#haus)"/>
<ellipse cx="298.3" cy="389.5" rx="10.3" ry="10.0" transform="rotate(17.0 298.3 389.5)" fill="url(#haus)"/>
<ellipse cx="303.9" cy="371.1" rx="10.3" ry="10.0" transform="rotate(17.0 303.9 371.1)" fill="url(#haus)"/>
<ellipse cx="319.6" cy="395.7" rx="10.3" ry="10.0" transform="rotate(15.9 319.6 395.7)" fill="url(#haus)"/>
<ellipse cx="324.8" cy="377.2" rx="10.3" ry="10.0" transform="rotate(15.9 324.8 377.2)" fill="url(#haus)"/>
<ellipse cx="341.6" cy="401.1" rx="10.3" ry="10.0" transform="rotate(11.6 341.6 401.1)" fill="url(#haus)"/>
<ellipse cx="345.5" cy="382.3" rx="10.3" ry="10.0" transform="rotate(11.6 345.5 382.3)" fill="url(#haus)"/>
<ellipse cx="364.1" cy="404.9" rx="10.3" ry="10.0" transform="rotate(6.8 364.1 404.9)" fill="url(#haus)"/>
<ellipse cx="366.4" cy="385.8" rx="10.3" ry="10.0" transform="rotate(6.8 366.4 385.8)" fill="url(#haus)"/>
<ellipse cx="387.3" cy="406.1" rx="10.3" ry="10.0" transform="rotate(-0.8 387.3 406.1)" fill="url(#haus)"/>
<ellipse cx="387.1" cy="386.9" rx="10.3" ry="10.0" transform="rotate(-0.8 387.1 386.9)" fill="url(#haus)"/>
<ellipse cx="410.4" cy="404.4" rx="10.3" ry="10.0" transform="rotate(-7.9 410.4 404.4)" fill="url(#haus)"/>
<ellipse cx="407.8" cy="385.4" rx="10.3" ry="10.0" transform="rotate(-7.9 407.8 385.4)" fill="url(#haus)"/>
<ellipse cx="433.6" cy="399.1" rx="10.3" ry="10.0" transform="rotate(-18.8 433.6 399.1)" fill="url(#haus)"/>
<ellipse cx="427.5" cy="381.0" rx="10.3" ry="10.0" transform="rotate(-18.8 427.5 381.0)" fill="url(#haus)"/>
<ellipse cx="455.5" cy="388.9" rx="10.3" ry="10.0" transform="rotate(-31.9 455.5 388.9)" fill="url(#haus)"/>
<ellipse cx="445.4" cy="372.6" rx="10.3" ry="10.0" transform="rotate(-31.9 445.4 372.6)" fill="url(#haus)"/>
<ellipse cx="474.3" cy="373.6" rx="10.3" ry="10.0" transform="rotate(-45.6 474.3 373.6)" fill="url(#haus)"/>
<ellipse cx="460.6" cy="360.1" rx="10.3" ry="10.0" transform="rotate(-45.6 460.6 360.1)" fill="url(#haus)"/>
<ellipse cx="488.6" cy="354.6" rx="10.3" ry="9.8" transform="rotate(-56.8 488.6 354.6)" fill="url(#haus)"/>
<ellipse cx="473.0" cy="344.3" rx="10.3" ry="9.8" transform="rotate(-56.8 473.0 344.3)" fill="url(#haus)"/>
<ellipse cx="493.4" cy="341.3" rx="10.3" ry="10.0" transform="rotate(1.6 493.4 341.3)" fill="url(#haus)"/>
<ellipse cx="493.9" cy="322.1" rx="10.3" ry="10.0" transform="rotate(1.6 493.9 322.1)" fill="url(#haus)"/>
<ellipse cx="487.2" cy="351.3" rx="10.3" ry="9.8" transform="rotate(91.4 487.2 351.3)" fill="url(#haus)"/>
<ellipse cx="505.9" cy="351.8" rx="10.3" ry="9.8" transform="rotate(91.4 505.9 351.8)" fill="url(#haus)"/>
<ellipse cx="486.6" cy="373.3" rx="10.3" ry="9.8" transform="rotate(91.2 486.6 373.3)" fill="url(#haus)"/>
<ellipse cx="505.3" cy="373.7" rx="10.3" ry="9.8" transform="rotate(91.2 505.3 373.7)" fill="url(#haus)"/>
<ellipse cx="486.0" cy="395.3" rx="10.3" ry="9.8" transform="rotate(91.4 486.0 395.3)" fill="url(#haus)"/>
<ellipse cx="504.8" cy="395.8" rx="10.3" ry="9.8" transform="rotate(91.4 504.8 395.8)" fill="url(#haus)"/>
<ellipse cx="485.6" cy="417.5" rx="10.3" ry="9.8" transform="rotate(90.2 485.6 417.5)" fill="url(#haus)"/>
<ellipse cx="504.4" cy="417.6" rx="10.3" ry="9.8" transform="rotate(90.2 504.4 417.6)" fill="url(#haus)"/>
<ellipse cx="486.0" cy="439.8" rx="10.3" ry="9.8" transform="rotate(88.5 486.0 439.8)" fill="url(#haus)"/>
<ellipse cx="504.7" cy="439.3" rx="10.3" ry="9.8" transform="rotate(88.5 504.7 439.3)" fill="url(#haus)"/>
<ellipse cx="486.6" cy="461.7" rx="10.3" ry="9.8" transform="rotate(89.1 486.6 461.7)" fill="url(#haus)"/>
<ellipse cx="505.3" cy="461.4" rx="10.3" ry="9.8" transform="rotate(89.1 505.3 461.4)" fill="url(#haus)"/>
<ellipse cx="486.7" cy="483.6" rx="10.3" ry="9.8" transform="rotate(89.7 486.7 483.6)" fill="url(#haus)"/>
<ellipse cx="505.4" cy="483.5" rx="10.3" ry="9.8" transform="rotate(89.7 505.4 483.5)" fill="url(#haus)"/>
<ellipse cx="486.6" cy="505.2" rx="10.3" ry="9.8" transform="rotate(92.0 486.6 505.2)" fill="url(#haus)"/>
<ellipse cx="505.3" cy="505.8" rx="10.3" ry="9.8" transform="rotate(92.0 505.3 505.8)" fill="url(#haus)"/>
<ellipse cx="484.7" cy="525.9" rx="10.3" ry="9.8" transform="rotate(99.4 484.7 525.9)" fill="url(#haus)"/>
<ellipse cx="503.2" cy="528.9" rx="10.3" ry="9.8" transform="rotate(99.4 503.2 528.9)" fill="url(#haus)"/>
<ellipse cx="479.8" cy="544.0" rx="10.3" ry="9.8" transform="rotate(118.8 479.8 544.0)" fill="url(#haus)"/>
<ellipse cx="496.2" cy="553.0" rx="10.3" ry="9.8" transform="rotate(118.8 496.2 553.0)" fill="url(#haus)"/>
<ellipse cx="468.0" cy="553.8" rx="10.3" ry="10.0" transform="rotate(156.4 468.0 553.8)" fill="url(#haus)"/>
<ellipse cx="475.7" cy="571.4" rx="10.3" ry="10.0" transform="rotate(156.4 475.7 571.4)" fill="url(#haus)"/>
<ellipse cx="450.4" cy="557.1" rx="10.3" ry="10.0" transform="rotate(179.8 450.4 557.1)" fill="url(#haus)"/>
<ellipse cx="450.5" cy="576.3" rx="10.3" ry="10.0" transform="rotate(179.8 450.5 576.3)" fill="url(#haus)"/>
<ellipse cx="431.3" cy="554.3" rx="10.3" ry="10.0" transform="rotate(-164.6 431.3 554.3)" fill="url(#haus)"/>
<ellipse cx="426.2" cy="572.8" rx="10.3" ry="10.0" transform="rotate(-164.6 426.2 572.8)" fill="url(#haus)"/>
<ellipse cx="411.6" cy="547.1" rx="10.3" ry="10.0" transform="rotate(-158.3 411.6 547.1)" fill="url(#haus)"/>
<ellipse cx="404.5" cy="565.0" rx="10.3" ry="10.0" transform="rotate(-158.3 404.5 565.0)" fill="url(#haus)"/>
<path d="M299.1,502.0 Q288.8,510.1 276.3,508.6" fill="none" stroke="#5f1f16" stroke-width="1.4" stroke-linecap="round" opacity="0.85"/>
<path d="M247.2,516.9 Q260.3,518.4 270.1,510.4" fill="none" stroke="#5f1f16" stroke-width="1.4" stroke-linecap="round" opacity="0.85"/>
<path d="M289.0,485.4 Q280.7,491.4 271.5,487.6" fill="none" stroke="#5f1f16" stroke-width="1.4" stroke-linecap="round" opacity="0.85"/>
<path d="M249.3,490.4 Q258.8,494.2 266.7,488.2" fill="none" stroke="#5f1f16" stroke-width="1.4" stroke-linecap="round" opacity="0.85"/>
<path d="M287.3,465.1 Q278.5,470.5 269.7,465.8" fill="none" stroke="#5f1f16" stroke-width="1.4" stroke-linecap="round" opacity="0.85"/>
<path d="M247.3,466.7 Q256.5,471.4 264.9,466.0" fill="none" stroke="#5f1f16" stroke-width="1.4" stroke-linecap="round" opacity="0.85"/>
<path d="M287.2,444.2 Q278.2,449.1 269.6,444.0" fill="none" stroke="#5f1f16" stroke-width="1.4" stroke-linecap="round" opacity="0.85"/>
<path d="M247.2,443.6 Q256.2,448.8 264.8,443.9" fill="none" stroke="#5f1f16" stroke-width="1.4" stroke-linecap="round" opacity="0.85"/>
<path d="M287.5,422.1 Q278.5,427.0 269.9,422.0" fill="none" stroke="#5f1f16" stroke-width="1.4" stroke-linecap="round" opacity="0.85"/>
<path d="M247.5,421.8 Q256.5,426.9 265.1,421.9" fill="none" stroke="#5f1f16" stroke-width="1.4" stroke-linecap="round" opacity="0.85"/>
<path d="M288.0,401.4 Q278.6,405.7 270.4,400.1" fill="none" stroke="#5f1f16" stroke-width="1.4" stroke-linecap="round" opacity="0.85"/>
<path d="M248.1,398.5 Q256.7,404.1 265.6,399.8" fill="none" stroke="#5f1f16" stroke-width="1.4" stroke-linecap="round" opacity="0.85"/>
<path d="M287.7,389.8 Q277.4,388.7 273.3,379.7" fill="none" stroke="#5f1f16" stroke-width="1.4" stroke-linecap="round" opacity="0.85"/>
<path d="M255.0,366.7 Q259.5,376.0 269.4,376.9" fill="none" stroke="#5f1f16" stroke-width="1.4" stroke-linecap="round" opacity="0.85"/>
<path d="M284.5,396.0 Q282.5,385.9 289.9,379.2" fill="none" stroke="#5f1f16" stroke-width="1.4" stroke-linecap="round" opacity="0.85"/>
<path d="M296.7,357.9 Q289.2,364.9 291.4,374.6" fill="none" stroke="#5f1f16" stroke-width="1.4" stroke-linecap="round" opacity="0.85"/>
<path d="M306.3,401.6 Q303.9,392.0 311.0,385.5" fill="none" stroke="#5f1f16" stroke-width="1.4" stroke-linecap="round" opacity="0.85"/>
<path d="M317.0,365.1 Q309.8,371.9 312.3,381.1" fill="none" stroke="#5f1f16" stroke-width="1.4" stroke-linecap="round" opacity="0.85"/>
<path d="M328.3,407.8 Q325.5,398.3 332.3,391.6" fill="none" stroke="#5f1f16" stroke-width="1.4" stroke-linecap="round" opacity="0.85"/>
<path d="M337.4,370.9 Q330.5,378.0 333.4,387.1" fill="none" stroke="#5f1f16" stroke-width="1.4" stroke-linecap="round" opacity="0.85"/>
<path d="M351.2,412.5 Q347.7,403.2 354.0,396.0" fill="none" stroke="#5f1f16" stroke-width="1.4" stroke-linecap="round" opacity="0.85"/>
<path d="M357.5,375.0 Q351.2,382.6 354.7,391.5" fill="none" stroke="#5f1f16" stroke-width="1.4" stroke-linecap="round" opacity="0.85"/>
<path d="M375.2,415.3 Q370.7,406.5 376.1,398.6" fill="none" stroke="#5f1f16" stroke-width="1.4" stroke-linecap="round" opacity="0.85"/>
<path d="M377.2,377.4 Q371.8,385.6 376.3,394.1" fill="none" stroke="#5f1f16" stroke-width="1.4" stroke-linecap="round" opacity="0.85"/>
<path d="M399.6,415.0 Q394.0,406.8 398.4,398.3" fill="none" stroke="#5f1f16" stroke-width="1.4" stroke-linecap="round" opacity="0.85"/>
<path d="M396.8,377.1 Q392.4,386.0 398.0,393.8" fill="none" stroke="#5f1f16" stroke-width="1.4" stroke-linecap="round" opacity="0.85"/>
<path d="M424.2,411.5 Q417.4,404.3 420.5,395.2" fill="none" stroke="#5f1f16" stroke-width="1.4" stroke-linecap="round" opacity="0.85"/>
<path d="M415.8,374.5 Q412.8,383.9 419.5,390.8" fill="none" stroke="#5f1f16" stroke-width="1.4" stroke-linecap="round" opacity="0.85"/>
<path d="M448.8,403.1 Q440.6,397.5 441.7,388.0" fill="none" stroke="#5f1f16" stroke-width="1.4" stroke-linecap="round" opacity="0.85"/>
<path d="M432.7,368.7 Q431.8,378.6 439.8,383.9" fill="none" stroke="#5f1f16" stroke-width="1.4" stroke-linecap="round" opacity="0.85"/>
<path d="M471.4,389.1 Q462.1,385.6 460.8,376.1" fill="none" stroke="#5f1f16" stroke-width="1.4" stroke-linecap="round" opacity="0.85"/>
<path d="M447.4,359.6 Q448.9,369.4 457.9,372.6" fill="none" stroke="#5f1f16" stroke-width="1.4" stroke-linecap="round" opacity="0.85"/>
<path d="M489.8,370.2 Q480.0,369.0 476.5,360.0" fill="none" stroke="#5f1f16" stroke-width="1.4" stroke-linecap="round" opacity="0.85"/>
<path d="M459.7,347.1 Q463.4,356.3 472.9,357.3" fill="none" stroke="#5f1f16" stroke-width="1.4" stroke-linecap="round" opacity="0.85"/>
<path d="M502.2,351.4 Q492.3,350.4 488.6,341.6" fill="none" stroke="#5f1f16" stroke-width="1.4" stroke-linecap="round" opacity="0.85"/>
<path d="M471.4,329.1 Q475.4,338.2 484.9,338.9" fill="none" stroke="#5f1f16" stroke-width="1.4" stroke-linecap="round" opacity="0.85"/>
<path d="M477.9,343.3 Q485.6,337.1 494.4,340.9" fill="none" stroke="#5f1f16" stroke-width="1.4" stroke-linecap="round" opacity="0.85"/>
<path d="M515.5,337.8 Q506.3,334.1 498.9,340.2" fill="none" stroke="#5f1f16" stroke-width="1.4" stroke-linecap="round" opacity="0.85"/>
<path d="M477.7,362.1 Q486.1,357.3 493.9,362.5" fill="none" stroke="#5f1f16" stroke-width="1.4" stroke-linecap="round" opacity="0.85"/>
<path d="M514.7,363.0 Q506.5,357.8 498.4,362.6" fill="none" stroke="#5f1f16" stroke-width="1.4" stroke-linecap="round" opacity="0.85"/>
<path d="M477.2,384.1 Q485.6,379.3 493.5,384.5" fill="none" stroke="#5f1f16" stroke-width="1.4" stroke-linecap="round" opacity="0.85"/>
<path d="M514.2,385.0 Q506.0,379.8 497.9,384.6" fill="none" stroke="#5f1f16" stroke-width="1.4" stroke-linecap="round" opacity="0.85"/>
<path d="M476.6,406.2 Q485.1,401.3 492.9,406.5" fill="none" stroke="#5f1f16" stroke-width="1.4" stroke-linecap="round" opacity="0.85"/>
<path d="M513.6,406.9 Q505.4,401.7 497.4,406.6" fill="none" stroke="#5f1f16" stroke-width="1.4" stroke-linecap="round" opacity="0.85"/>
<path d="M476.6,428.8 Q484.8,423.7 492.9,428.6" fill="none" stroke="#5f1f16" stroke-width="1.4" stroke-linecap="round" opacity="0.85"/>
<path d="M513.6,428.2 Q505.2,423.4 497.3,428.5" fill="none" stroke="#5f1f16" stroke-width="1.4" stroke-linecap="round" opacity="0.85"/>
<path d="M477.2,451.0 Q485.4,445.8 493.4,450.6" fill="none" stroke="#5f1f16" stroke-width="1.4" stroke-linecap="round" opacity="0.85"/>
<path d="M514.2,450.0 Q505.7,445.2 497.9,450.5" fill="none" stroke="#5f1f16" stroke-width="1.4" stroke-linecap="round" opacity="0.85"/>
<path d="M477.5,472.6 Q485.8,467.6 493.8,472.5" fill="none" stroke="#5f1f16" stroke-width="1.4" stroke-linecap="round" opacity="0.85"/>
<path d="M514.5,472.4 Q506.1,467.4 498.2,472.5" fill="none" stroke="#5f1f16" stroke-width="1.4" stroke-linecap="round" opacity="0.85"/>
<path d="M477.6,494.4 Q486.0,489.5 493.9,494.5" fill="none" stroke="#5f1f16" stroke-width="1.4" stroke-linecap="round" opacity="0.85"/>
<path d="M514.6,494.6 Q506.3,489.6 498.3,494.5" fill="none" stroke="#5f1f16" stroke-width="1.4" stroke-linecap="round" opacity="0.85"/>
<path d="M476.9,514.8 Q485.7,510.6 493.2,516.3" fill="none" stroke="#5f1f16" stroke-width="1.4" stroke-linecap="round" opacity="0.85"/>
<path d="M513.8,518.2 Q506.0,512.4 497.6,516.7" fill="none" stroke="#5f1f16" stroke-width="1.4" stroke-linecap="round" opacity="0.85"/>
<path d="M474.0,533.2 Q483.3,530.6 489.6,537.6" fill="none" stroke="#5f1f16" stroke-width="1.4" stroke-linecap="round" opacity="0.85"/>
<path d="M509.6,543.2 Q502.9,536.1 493.9,538.8" fill="none" stroke="#5f1f16" stroke-width="1.4" stroke-linecap="round" opacity="0.85"/>
<path d="M469.2,543.2 Q478.4,546.2 479.9,555.5" fill="none" stroke="#5f1f16" stroke-width="1.4" stroke-linecap="round" opacity="0.85"/>
<path d="M493.5,571.1 Q491.8,561.5 482.8,558.8" fill="none" stroke="#5f1f16" stroke-width="1.4" stroke-linecap="round" opacity="0.85"/>
<path d="M457.8,547.2 Q464.3,554.7 461.0,563.6" fill="none" stroke="#5f1f16" stroke-width="1.4" stroke-linecap="round" opacity="0.85"/>
<path d="M464.9,584.5 Q468.2,575.2 461.8,568.1" fill="none" stroke="#5f1f16" stroke-width="1.4" stroke-linecap="round" opacity="0.85"/>
<path d="M442.2,547.1 Q445.9,556.3 439.8,563.7" fill="none" stroke="#5f1f16" stroke-width="1.4" stroke-linecap="round" opacity="0.85"/>
<path d="M436.7,584.7 Q442.9,577.0 439.1,568.2" fill="none" stroke="#5f1f16" stroke-width="1.4" stroke-linecap="round" opacity="0.85"/>
<path d="M424.8,542.2 Q426.6,552.0 419.1,557.9" fill="none" stroke="#5f1f16" stroke-width="1.4" stroke-linecap="round" opacity="0.85"/>
<path d="M411.8,578.0 Q419.4,571.6 417.5,562.2" fill="none" stroke="#5f1f16" stroke-width="1.4" stroke-linecap="round" opacity="0.85"/>
<path d="M296.0,540.0 L295.2,539.0 L294.2,537.9 L293.0,536.5 L291.6,535.1 L290.2,533.5 L288.6,531.7 L287.0,529.9 L285.3,528.0 L283.6,526.0 L282.0,524.0 L280.4,522.0 L278.8,519.9 L277.4,517.9 L276.1,515.9 L274.9,513.9 L274.0,512.0 L273.2,510.1 L272.5,508.3 L271.9,506.5 L271.4,504.7 L271.0,502.9 L270.7,501.1 L270.4,499.2 L270.2,497.4 L270.0,495.5 L269.8,493.5 L269.7,491.5 L269.5,489.4 L269.4,487.2 L269.3,484.9 L269.2,482.5 L269.0,480.0 L268.8,477.3 L268.7,474.5 L268.6,471.5 L268.5,468.4 L268.5,465.2 L268.5,461.9 L268.4,458.6 L268.4,455.2 L268.4,451.8 L268.5,448.4 L268.5,445.1 L268.5,441.9 L268.5,438.7 L268.5,435.7 L268.5,432.7 L268.5,430.0 L268.5,427.4 L268.5,424.8 L268.4,422.3 L268.4,419.9 L268.4,417.6 L268.4,415.2 L268.4,413.0 L268.4,410.8 L268.4,408.7 L268.4,406.6 L268.4,404.5 L268.4,402.6 L268.4,400.6 L268.4,398.7 L268.5,396.8 L268.5,395.0 L268.5,393.2 L268.4,391.4 L268.3,389.7 L268.1,388.0 L267.9,386.3 L267.7,384.7 L267.5,383.1 L267.4,381.6 L267.3,380.1 L267.3,378.7 L267.4,377.4 L267.6,376.2 L267.9,375.0 L268.4,373.9 L269.1,372.9 L270.0,372.0 L271.1,371.2 L272.3,370.4 L273.7,369.8 L275.3,369.2 L276.9,368.6 L278.7,368.2 L280.6,367.8 L282.6,367.5 L284.6,367.2 L286.8,367.1 L288.9,367.0 L291.1,366.9 L293.3,367.0 L295.6,367.1 L297.8,367.3 L300.0,367.5 L302.2,367.9 L304.5,368.4 L306.9,369.0 L309.3,369.7 L311.8,370.6 L314.3,371.5 L316.8,372.4 L319.4,373.4 L322.0,374.5 L324.6,375.5 L327.2,376.5 L329.8,377.6 L332.4,378.5 L334.9,379.4 L337.5,380.3 L340.0,381.0 L342.5,381.7 L345.0,382.4 L347.5,383.1 L350.0,383.7 L352.5,384.4 L355.0,385.0 L357.5,385.7 L360.0,386.2 L362.5,386.8 L365.0,387.3 L367.5,387.8 L370.0,388.3 L372.5,388.7 L375.0,389.0 L377.5,389.3 L380.0,389.5 L382.5,389.7 L385.1,389.8 L387.6,389.8 L390.2,389.8 L392.8,389.8 L395.4,389.7 L398.0,389.6 L400.6,389.4 L403.2,389.2 L405.7,389.0 L408.2,388.7 L410.7,388.4 L413.1,388.1 L415.5,387.7 L417.8,387.4 L420.0,387.0 L422.2,386.6 L424.3,386.2 L426.4,385.8 L428.4,385.3 L430.4,384.8 L432.3,384.3 L434.2,383.8 L436.1,383.2 L438.0,382.6 L439.8,382.0 L441.6,381.3 L443.3,380.5 L445.0,379.7 L446.7,378.9 L448.4,378.0 L450.0,377.0 L451.6,376.0 L453.2,374.8 L454.7,373.7 L456.2,372.4 L457.7,371.1 L459.1,369.8 L460.5,368.4 L461.9,366.9 L463.2,365.5 L464.5,364.0 L465.8,362.5 L467.1,361.0 L468.4,359.5 L469.6,358.0 L470.8,356.5 L472.0,355.0 L473.2,353.5 L474.3,351.9 L475.5,350.3 L476.6,348.6 L477.7,346.9 L478.7,345.2 L479.8,343.5 L480.8,341.8 L481.8,340.1 L482.8,338.4 L483.7,336.8 L484.6,335.3 L485.5,333.8 L486.4,332.4 L487.2,331.2 L488.0,330.0 L488.8,328.9 L489.5,327.7 L490.2,326.5 L490.9,325.3 L491.6,324.1 L492.2,323.0 L492.8,321.9 L493.4,320.9 L494.0,320.1 L494.5,319.4 L495.0,318.9 L495.4,318.6 L495.9,318.6 L496.3,318.8 L496.7,319.2 L497.0,320.0 L497.3,321.1 L497.6,322.5 L497.8,324.2 L498.0,326.1 L498.2,328.2 L498.4,330.6 L498.5,333.1 L498.6,335.8 L498.6,338.6 L498.7,341.6 L498.7,344.6 L498.7,347.6 L498.7,350.7 L498.6,353.8 L498.6,356.9 L498.5,360.0 L498.4,363.1 L498.2,366.3 L498.0,369.7 L497.7,373.1 L497.4,376.7 L497.1,380.3 L496.8,384.0 L496.4,387.7 L496.1,391.4 L495.8,395.2 L495.5,398.9 L495.2,402.6 L494.9,406.3 L494.7,410.0 L494.6,413.5 L494.5,417.0 L494.5,420.4 L494.5,423.9 L494.6,427.3 L494.7,430.7 L494.8,434.1 L495.0,437.5 L495.2,440.9 L495.4,444.2 L495.6,447.6 L495.8,450.9 L496.0,454.2 L496.3,457.4 L496.5,460.6 L496.7,463.8 L496.8,466.9 L497.0,470.0 L497.2,473.1 L497.4,476.1 L497.6,479.2 L497.8,482.2 L498.1,485.2 L498.4,488.2 L498.6,491.2 L498.8,494.1 L499.1,496.9 L499.2,499.7 L499.4,502.5 L499.4,505.1 L499.4,507.7 L499.4,510.2 L499.2,512.7 L499.0,515.0 L498.7,517.2 L498.3,519.4 L497.9,521.5 L497.4,523.5 L496.9,525.5 L496.4,527.4 L495.7,529.2 L495.1,531.0 L494.3,532.7 L493.6,534.3 L492.8,535.9 L491.9,537.5 L491.0,538.9 L490.0,540.3 L489.0,541.7 L488.0,543.0 L486.9,544.2 L485.7,545.4 L484.5,546.5 L483.1,547.6 L481.8,548.6 L480.3,549.5 L478.9,550.4 L477.4,551.2 L475.8,552.0 L474.3,552.7 L472.7,553.3 L471.2,553.9 L469.6,554.5 L468.1,555.1 L466.5,555.5 L465.0,556.0 L463.5,556.4 L462.0,556.7 L460.4,557.0 L458.9,557.2 L457.3,557.4 L455.7,557.5 L454.1,557.6 L452.6,557.6 L451.0,557.6 L449.4,557.6 L447.8,557.5 L446.2,557.5 L444.7,557.4 L443.1,557.2 L441.5,557.1 L440.0,557.0 L438.4,556.8 L436.8,556.6 L435.1,556.4 L433.4,556.1 L431.6,555.7 L429.9,555.3 L428.1,555.0 L426.4,554.6 L424.8,554.2 L423.2,553.8 L421.7,553.4 L420.3,553.0 L419.0,552.7 L417.8,552.4 L416.8,552.2 L416.0,552.0" fill="none" stroke="#6a2419" stroke-width="6.2" stroke-linecap="round" stroke-linejoin="round"/>
<path d="M296.0,540.0 L295.2,539.0 L294.2,537.9 L293.0,536.5 L291.6,535.1 L290.2,533.5 L288.6,531.7 L287.0,529.9 L285.3,528.0 L283.6,526.0 L282.0,524.0 L280.4,522.0 L278.8,519.9 L277.4,517.9 L276.1,515.9 L274.9,513.9 L274.0,512.0 L273.2,510.1 L272.5,508.3 L271.9,506.5 L271.4,504.7 L271.0,502.9 L270.7,501.1 L270.4,499.2 L270.2,497.4 L270.0,495.5 L269.8,493.5 L269.7,491.5 L269.5,489.4 L269.4,487.2 L269.3,484.9 L269.2,482.5 L269.0,480.0 L268.8,477.3 L268.7,474.5 L268.6,471.5 L268.5,468.4 L268.5,465.2 L268.5,461.9 L268.4,458.6 L268.4,455.2 L268.4,451.8 L268.5,448.4 L268.5,445.1 L268.5,441.9 L268.5,438.7 L268.5,435.7 L268.5,432.7 L268.5,430.0 L268.5,427.4 L268.5,424.8 L268.4,422.3 L268.4,419.9 L268.4,417.6 L268.4,415.2 L268.4,413.0 L268.4,410.8 L268.4,408.7 L268.4,406.6 L268.4,404.5 L268.4,402.6 L268.4,400.6 L268.4,398.7 L268.5,396.8 L268.5,395.0 L268.5,393.2 L268.4,391.4 L268.3,389.7 L268.1,388.0 L267.9,386.3 L267.7,384.7 L267.5,383.1 L267.4,381.6 L267.3,380.1 L267.3,378.7 L267.4,377.4 L267.6,376.2 L267.9,375.0 L268.4,373.9 L269.1,372.9 L270.0,372.0 L271.1,371.2 L272.3,370.4 L273.7,369.8 L275.3,369.2 L276.9,368.6 L278.7,368.2 L280.6,367.8 L282.6,367.5 L284.6,367.2 L286.8,367.1 L288.9,367.0 L291.1,366.9 L293.3,367.0 L295.6,367.1 L297.8,367.3 L300.0,367.5 L302.2,367.9 L304.5,368.4 L306.9,369.0 L309.3,369.7 L311.8,370.6 L314.3,371.5 L316.8,372.4 L319.4,373.4 L322.0,374.5 L324.6,375.5 L327.2,376.5 L329.8,377.6 L332.4,378.5 L334.9,379.4 L337.5,380.3 L340.0,381.0 L342.5,381.7 L345.0,382.4 L347.5,383.1 L350.0,383.7 L352.5,384.4 L355.0,385.0 L357.5,385.7 L360.0,386.2 L362.5,386.8 L365.0,387.3 L367.5,387.8 L370.0,388.3 L372.5,388.7 L375.0,389.0 L377.5,389.3 L380.0,389.5 L382.5,389.7 L385.1,389.8 L387.6,389.8 L390.2,389.8 L392.8,389.8 L395.4,389.7 L398.0,389.6 L400.6,389.4 L403.2,389.2 L405.7,389.0 L408.2,388.7 L410.7,388.4 L413.1,388.1 L415.5,387.7 L417.8,387.4 L420.0,387.0 L422.2,386.6 L424.3,386.2 L426.4,385.8 L428.4,385.3 L430.4,384.8 L432.3,384.3 L434.2,383.8 L436.1,383.2 L438.0,382.6 L439.8,382.0 L441.6,381.3 L443.3,380.5 L445.0,379.7 L446.7,378.9 L448.4,378.0 L450.0,377.0 L451.6,376.0 L453.2,374.8 L454.7,373.7 L456.2,372.4 L457.7,371.1 L459.1,369.8 L460.5,368.4 L461.9,366.9 L463.2,365.5 L464.5,364.0 L465.8,362.5 L467.1,361.0 L468.4,359.5 L469.6,358.0 L470.8,356.5 L472.0,355.0 L473.2,353.5 L474.3,351.9 L475.5,350.3 L476.6,348.6 L477.7,346.9 L478.7,345.2 L479.8,343.5 L480.8,341.8 L481.8,340.1 L482.8,338.4 L483.7,336.8 L484.6,335.3 L485.5,333.8 L486.4,332.4 L487.2,331.2 L488.0,330.0 L488.8,328.9 L489.5,327.7 L490.2,326.5 L490.9,325.3 L491.6,324.1 L492.2,323.0 L492.8,321.9 L493.4,320.9 L494.0,320.1 L494.5,319.4 L495.0,318.9 L495.4,318.6 L495.9,318.6 L496.3,318.8 L496.7,319.2 L497.0,320.0 L497.3,321.1 L497.6,322.5 L497.8,324.2 L498.0,326.1 L498.2,328.2 L498.4,330.6 L498.5,333.1 L498.6,335.8 L498.6,338.6 L498.7,341.6 L498.7,344.6 L498.7,347.6 L498.7,350.7 L498.6,353.8 L498.6,356.9 L498.5,360.0 L498.4,363.1 L498.2,366.3 L498.0,369.7 L497.7,373.1 L497.4,376.7 L497.1,380.3 L496.8,384.0 L496.4,387.7 L496.1,391.4 L495.8,395.2 L495.5,398.9 L495.2,402.6 L494.9,406.3 L494.7,410.0 L494.6,413.5 L494.5,417.0 L494.5,420.4 L494.5,423.9 L494.6,427.3 L494.7,430.7 L494.8,434.1 L495.0,437.5 L495.2,440.9 L495.4,444.2 L495.6,447.6 L495.8,450.9 L496.0,454.2 L496.3,457.4 L496.5,460.6 L496.7,463.8 L496.8,466.9 L497.0,470.0 L497.2,473.1 L497.4,476.1 L497.6,479.2 L497.8,482.2 L498.1,485.2 L498.4,488.2 L498.6,491.2 L498.8,494.1 L499.1,496.9 L499.2,499.7 L499.4,502.5 L499.4,505.1 L499.4,507.7 L499.4,510.2 L499.2,512.7 L499.0,515.0 L498.7,517.2 L498.3,519.4 L497.9,521.5 L497.4,523.5 L496.9,525.5 L496.4,527.4 L495.7,529.2 L495.1,531.0 L494.3,532.7 L493.6,534.3 L492.8,535.9 L491.9,537.5 L491.0,538.9 L490.0,540.3 L489.0,541.7 L488.0,543.0 L486.9,544.2 L485.7,545.4 L484.5,546.5 L483.1,547.6 L481.8,548.6 L480.3,549.5 L478.9,550.4 L477.4,551.2 L475.8,552.0 L474.3,552.7 L472.7,553.3 L471.2,553.9 L469.6,554.5 L468.1,555.1 L466.5,555.5 L465.0,556.0 L463.5,556.4 L462.0,556.7 L460.4,557.0 L458.9,557.2 L457.3,557.4 L455.7,557.5 L454.1,557.6 L452.6,557.6 L451.0,557.6 L449.4,557.6 L447.8,557.5 L446.2,557.5 L444.7,557.4 L443.1,557.2 L441.5,557.1 L440.0,557.0 L438.4,556.8 L436.8,556.6 L435.1,556.4 L433.4,556.1 L431.6,555.7 L429.9,555.3 L428.1,555.0 L426.4,554.6 L424.8,554.2 L423.2,553.8 L421.7,553.4 L420.3,553.0 L419.0,552.7 L417.8,552.4 L416.8,552.2 L416.0,552.0" fill="none" stroke="#f1c0ae" stroke-width="3.6" stroke-linecap="round" stroke-linejoin="round"/>
<path d="M361,566 C360,548 368,536 380,533 C392,531 405,532 413,536 C420,548 412,566 404,578 C407,590 409,603 408.8,615 C407,630 400,640 398.6,647.4 C397,653 396.4,658 396,662.8 L377.3,662.8 C377,657 376.6,652 375.9,648.8 C371,640 366,630 365.6,622.5 C363,614 363,600 364.9,593.2 C364,585 361,576 361,566 Z" fill="url(#rectG)"/>
<path d="M404,578 C407,590 409,603 408.8,615 C407,630 400,640 398.6,647.4 C397,653 396.4,658 396,662.8 L377.3,662.8 C377,657 376.6,652 375.9,648.8 C371,640 366,630 365.6,622.5 C363,614 363,600 364.9,593.2 C364,585 361,576 361,566 C360,548 368,536 380,533 C392,531 405,532 413,536" fill="none" stroke="#65241b" stroke-width="1.9"/>
<path d="M372,560 C369,580 372,600 378,620" fill="none" stroke="#f4c3b3" stroke-width="4" stroke-linecap="round" opacity="0.9"/>
<path d="M400,600 C402,620 396,638 392,660 M370,630 C376,640 381,650 383,660" fill="none" stroke="#b9634e" stroke-width="1.1" opacity="0.8"/>
<path d="M404,578 C396,570 392,560 396,548" fill="none" stroke="#c06c57" stroke-width="2" opacity="0.6"/>
<path d="M228,317 H270 Q278.5,317 278.5,325 V364" stroke="#f6f4ef" stroke-width="4.2" fill="none" stroke-linejoin="round" opacity="0.9"/>
<path d="M228,523.8 H289" stroke="#f6f4ef" stroke-width="4.2" fill="none" stroke-linejoin="round" opacity="0.9"/>
<path d="M228,561.5 L277,603 Q282,607.5 288,607.5 H354" stroke="#f6f4ef" stroke-width="4.2" fill="none" stroke-linejoin="round" opacity="0.9"/>
<path d="M475.6,258.2 H541.8" stroke="#f6f4ef" stroke-width="4.2" fill="none" stroke-linejoin="round" opacity="0.9"/>
<path d="M458,411.5 H542.6" stroke="#f6f4ef" stroke-width="4.2" fill="none" stroke-linejoin="round" opacity="0.9"/>
<path d="M486.5,485 H542.6" stroke="#f6f4ef" stroke-width="4.2" fill="none" stroke-linejoin="round" opacity="0.9"/>
<path d="M418.5,607.6 H480 Q484,607.6 487,604.8 L517,577.6 Q520,575 524,575 H623.5 Q635.6,575 635.6,563 V506.5" stroke="#f6f4ef" stroke-width="4.2" fill="none" stroke-linejoin="round" opacity="0.9"/>
<path d="M410.5,645.4 L452,687 Q454.5,689.5 458,689.5 H500" stroke="#f6f4ef" stroke-width="4.2" fill="none" stroke-linejoin="round" opacity="0.9"/>
<path d="M386.5,674.4 V749 Q386.5,761.4 374,761.4 H331" stroke="#f6f4ef" stroke-width="4.2" fill="none" stroke-linejoin="round" opacity="0.9"/>
<path d="M228,317 H270 Q278.5,317 278.5,325 V364" stroke="#a98473" stroke-width="1.8" fill="none" stroke-linecap="round" stroke-linejoin="round"/>
<path d="M228,523.8 H289" stroke="#a98473" stroke-width="1.8" fill="none" stroke-linecap="round" stroke-linejoin="round"/>
<path d="M228,561.5 L277,603 Q282,607.5 288,607.5 H354" stroke="#a98473" stroke-width="1.8" fill="none" stroke-linecap="round" stroke-linejoin="round"/>
<path d="M475.6,258.2 H541.8" stroke="#2d6567" stroke-width="1.8" fill="none" stroke-linecap="round" stroke-linejoin="round"/>
<path d="M458,411.5 H542.6" stroke="#2d6567" stroke-width="1.8" fill="none" stroke-linecap="round" stroke-linejoin="round"/>
<path d="M486.5,485 H542.6" stroke="#2d6567" stroke-width="1.8" fill="none" stroke-linecap="round" stroke-linejoin="round"/>
<path d="M418.5,607.6 H480 Q484,607.6 487,604.8 L517,577.6 Q520,575 524,575 H623.5 Q635.6,575 635.6,563 V506.5" stroke="#2d6567" stroke-width="1.8" fill="none" stroke-linecap="round" stroke-linejoin="round"/>
<path d="M410.5,645.4 L452,687 Q454.5,689.5 458,689.5 H500" stroke="#2d6567" stroke-width="1.8" fill="none" stroke-linecap="round" stroke-linejoin="round"/>
<path d="M386.5,674.4 V749 Q386.5,761.4 374,761.4 H331" stroke="#2d6567" stroke-width="1.8" fill="none" stroke-linecap="round" stroke-linejoin="round"/>
<circle cx="278.5" cy="364" r="4.2" fill="#9c6a58" stroke="#fbfaf7" stroke-width="1.8"/>
<circle cx="289.2" cy="523.8" r="4.2" fill="#9c6a58" stroke="#fbfaf7" stroke-width="1.8"/>
<circle cx="354" cy="607.5" r="3.4" fill="#9c6a58" stroke="#fbfaf7" stroke-width="1.8"/>
<circle cx="475.6" cy="258.2" r="4.2" fill="#2d6567" stroke="#fbfaf7" stroke-width="1.8"/>
<circle cx="458" cy="411.5" r="4.2" fill="#2d6567" stroke="#fbfaf7" stroke-width="1.8"/>
<circle cx="486.5" cy="485" r="4.2" fill="#2d6567" stroke="#fbfaf7" stroke-width="1.8"/>
<circle cx="418.5" cy="607.6" r="3.4" fill="#2d6567" stroke="#fbfaf7" stroke-width="1.8"/>
<circle cx="410.5" cy="645.4" r="3.4" fill="#2d6567" stroke="#fbfaf7" stroke-width="1.8"/>
<circle cx="386.5" cy="674.4" r="3.4" fill="#2d6567" stroke="#fbfaf7" stroke-width="1.8"/>
<path d="M45.6,281.3 Q45.6,271.3 55.6,271.3 H218.2 Q228.2,271.3 228.2,281.3 V567.5 Q228.2,577.5 218.2,577.5 H55.6 Q45.6,577.5 45.6,567.5 Z" fill="#f1f1ec" stroke="#a3806f" stroke-width="1.8"/><path d="M45.6,281.3 Q45.6,271.3 55.6,271.3 H218.2 Q228.2,271.3 228.2,281.3 V357 H45.6 Z" fill="#b06446"/>
<rect x="226" y="527.2" width="4.5" height="24.6" fill="#f1f2ed"/>
<path d="M45.6,635.8 Q45.6,624.8 56.6,624.8 H320.1 Q331.1,624.8 331.1,635.8 V892.5 Q331.1,903.5 320.1,903.5 H56.6 Q45.6,903.5 45.6,892.5 Z" fill="#f1f1ec" stroke="#33605d" stroke-width="1.9"/><path d="M45.6,635.8 Q45.6,624.8 56.6,624.8 H320.1 Q331.1,624.8 331.1,635.8 V711 H45.6 Z" fill="#215b5f"/>
<path d="M499.8,635.6 Q499.8,624.6 510.8,624.6 H707.8 Q718.8,624.6 718.8,635.6 V892.5 Q718.8,903.5 707.8,903.5 H510.8 Q499.8,903.5 499.8,892.5 Z" fill="#f1f1ec" stroke="#33605d" stroke-width="1.9"/><path d="M499.8,635.6 Q499.8,624.6 510.8,624.6 H707.8 Q718.8,624.6 718.8,635.6 V711 H499.8 Z" fill="#215b5f"/>
<text x="59.30" y="293.80" font-size="14.5" textLength="68.35" lengthAdjust="spacingAndGlyphs" fill="#f1ddd1"  stroke="#f1ddd1" stroke-width="0.3">MODULE 1</text>
<text x="59.47" y="323.00" font-size="21.8" textLength="80.94" lengthAdjust="spacingAndGlyphs" fill="#f6e6dc" stroke="#f6e6dc" stroke-width="0.85">DIETARY</text>
<text x="59.21" y="344.80" font-size="21.8" textLength="157.69" lengthAdjust="spacingAndGlyphs" fill="#f6e6dc" stroke="#f6e6dc" stroke-width="0.85">INTERVENTIONS</text>
<text x="111.52" y="387.20" font-size="14.5" textLength="109.54" lengthAdjust="spacingAndGlyphs" fill="#1a1a1a" font-weight="bold" >CLEAR DIAGNOSIS</text>
<text x="111.11" y="402.60" font-size="14.5" textLength="98.54" lengthAdjust="spacingAndGlyphs" fill="#1a1a1a"  stroke="#1a1a1a" stroke-width="0.3">leads to targeted</text>
<text x="111.80" y="418.40" font-size="14.5" textLength="56.00" lengthAdjust="spacingAndGlyphs" fill="#1a1a1a"  stroke="#1a1a1a" stroke-width="0.3">treatment</text>
<text x="111.19" y="452.40" font-size="14.5" textLength="116.39" lengthAdjust="spacingAndGlyphs" fill="#1a1a1a" font-weight="bold" >Low-FODMAP DIET:</text>
<text x="110.94" y="468.00" font-size="14.5" textLength="107.03" lengthAdjust="spacingAndGlyphs" fill="#1a1a1a"  stroke="#1a1a1a" stroke-width="0.3">Reduce symptoms</text>
<text x="111.13" y="483.70" font-size="14.5" textLength="103.34" lengthAdjust="spacingAndGlyphs" fill="#1a1a1a"  stroke="#1a1a1a" stroke-width="0.3">in 75% of patients</text>
<text x="111.65" y="514.30" font-size="14.5" textLength="110.18" lengthAdjust="spacingAndGlyphs" fill="#1a1a1a" font-weight="bold" >Soluble Fiber (e.g.,</text>
<text x="111.28" y="529.30" font-size="14.5" textLength="58.81" lengthAdjust="spacingAndGlyphs" fill="#1a1a1a" font-weight="bold" >Psyllium):</text>
<text x="172.65" y="529.30" font-size="14.5" textLength="36.42" lengthAdjust="spacingAndGlyphs" fill="#1a1a1a"  stroke="#1a1a1a" stroke-width="0.3">Forms</text>
<text x="111.64" y="545.20" font-size="14.5" textLength="116.82" lengthAdjust="spacingAndGlyphs" fill="#1a1a1a"  stroke="#1a1a1a" stroke-width="0.3">solid stools, reduces</text>
<text x="111.15" y="560.90" font-size="14.5" textLength="96.35" lengthAdjust="spacingAndGlyphs" fill="#1a1a1a"  stroke="#1a1a1a" stroke-width="0.3">morning diarrhea</text>
<text x="58.15" y="647.60" font-size="14.5" textLength="71.76" lengthAdjust="spacingAndGlyphs" fill="#d9e6e5"  stroke="#d9e6e5" stroke-width="0.3">MODULE 2</text>
<text x="58.39" y="677.80" font-size="21.8" textLength="251.07" lengthAdjust="spacingAndGlyphs" fill="#e4efee" stroke="#e4efee" stroke-width="0.85">SYMPTOM MANAGEMENT</text>
<text x="58.07" y="699.40" font-size="21.8" textLength="217.67" lengthAdjust="spacingAndGlyphs" fill="#e4efee" stroke="#e4efee" stroke-width="0.85">(MEDICATION &amp; CALM)</text>
<text x="112.36" y="743.80" font-size="17" textLength="194.87" lengthAdjust="spacingAndGlyphs" fill="#1a1a1a"  stroke="#1a1a1a" stroke-width="0.3">Understanding Gut-Brain Axis</text>
<text x="112.43" y="760.30" font-size="17" textLength="11.55" lengthAdjust="spacingAndGlyphs" fill="#1a1a1a"  stroke="#1a1a1a" stroke-width="0.3">is</text>
<text x="127.75" y="760.30" font-size="17" textLength="60.77" lengthAdjust="spacingAndGlyphs" fill="#1a1a1a" font-weight="bold" >CRUCIAL</text>
<text x="112.25" y="793.60" font-size="17" textLength="175.42" lengthAdjust="spacingAndGlyphs" fill="#1a1a1a"  stroke="#1a1a1a" stroke-width="0.3">Medications (Loperamide,</text>
<text x="112.23" y="810.10" font-size="17" textLength="165.69" lengthAdjust="spacingAndGlyphs" fill="#1a1a1a"  stroke="#1a1a1a" stroke-width="0.3">Bile Acid Sequestrants):</text>
<text x="112.26" y="827.00" font-size="17" textLength="200.48" lengthAdjust="spacingAndGlyphs" fill="#1a1a1a"  stroke="#1a1a1a" stroke-width="0.3">Effectively manage symptoms</text>
<text x="112.73" y="862.30" font-size="17" textLength="203.64" lengthAdjust="spacingAndGlyphs" fill="#1a1a1a"  stroke="#1a1a1a" stroke-width="0.3">Calm morning routine alleviate</text>
<text x="113.61" y="878.80" font-size="17" textLength="120.06" lengthAdjust="spacingAndGlyphs" fill="#1a1a1a" font-weight="bold" >STRESS-INDUCED</text>
<text x="238.18" y="878.80" font-size="17" textLength="68.87" lengthAdjust="spacingAndGlyphs" fill="#1a1a1a"  stroke="#1a1a1a" stroke-width="0.3">symptoms</text>
<text x="513.35" y="647.40" font-size="14.5" textLength="71.56" lengthAdjust="spacingAndGlyphs" fill="#d9e6e5"  stroke="#d9e6e5" stroke-width="0.3">MODULE 3</text>
<text x="512.99" y="677.80" font-size="21.8" textLength="196.78" lengthAdjust="spacingAndGlyphs" fill="#e4efee" stroke="#e4efee" stroke-width="0.85">PRACTICAL MORNING</text>
<text x="513.70" y="699.20" font-size="21.8" textLength="111.61" lengthAdjust="spacingAndGlyphs" fill="#e4efee" stroke="#e4efee" stroke-width="0.85">STRATEGIES</text>
<text x="575.25" y="739.50" font-size="16" textLength="59.68" lengthAdjust="spacingAndGlyphs" fill="#1a1a1a"  stroke="#1a1a1a" stroke-width="0.3">Start with</text>
<text x="638.65" y="739.50" font-size="16" textLength="43.86" lengthAdjust="spacingAndGlyphs" fill="#1a1a1a" font-weight="bold" >ROOM-</text>
<text x="575.77" y="755.80" font-size="16" textLength="140.17" lengthAdjust="spacingAndGlyphs" fill="#1a1a1a" font-weight="bold" >TEMPERATURE WATER:</text>
<text x="574.41" y="772.00" font-size="16" textLength="138.87" lengthAdjust="spacingAndGlyphs" fill="#1a1a1a"  stroke="#1a1a1a" stroke-width="0.3">Eases digestive system</text>
<text x="575.18" y="805.00" font-size="16" textLength="132.07" lengthAdjust="spacingAndGlyphs" fill="#1a1a1a" font-weight="bold" >ALLOW 45 MINUTES:</text>
<text x="574.36" y="820.80" font-size="16" textLength="107.97" lengthAdjust="spacingAndGlyphs" fill="#1a1a1a"  stroke="#1a1a1a" stroke-width="0.3">Reduces urgency</text>
<text x="574.90" y="836.50" font-size="16" textLength="72.13" lengthAdjust="spacingAndGlyphs" fill="#1a1a1a"  stroke="#1a1a1a" stroke-width="0.3">and anxiety</text>
<text x="574.34" y="867.90" font-size="16" textLength="101.77" lengthAdjust="spacingAndGlyphs" fill="#1a1a1a"  stroke="#1a1a1a" stroke-width="0.3">Enter restaurant</text>
<text x="575.92" y="884.40" font-size="16" textLength="72.02" lengthAdjust="spacingAndGlyphs" fill="#1a1a1a"  stroke="#1a1a1a" stroke-width="0.3">with a clear</text>
<text x="651.92" y="884.40" font-size="16" textLength="35.97" lengthAdjust="spacingAndGlyphs" fill="#1a1a1a" font-weight="bold" >PLAN</text>
<g fill="none" stroke="#c78a72" stroke-width="1.6" stroke-linecap="round" stroke-linejoin="round"><rect x="62" y="377" width="33" height="40" rx="2"/><rect x="71" y="373.5" width="15" height="6" rx="2" fill="#f3f3ef"/><path d="M66,388 l2,2 l3,-4 M74,388 h12 M66,397 l2,2 l3,-4 M74,397 h8 M66,406 l2,2 l3,-4 M74,406 h6"/><circle cx="89" cy="403" r="7" fill="#f3f3ef"/><path d="M86,403 l2,2 l4,-4 M94,408 l7,8"/></g>
<g fill="#e9bba8" stroke="#a9654d" stroke-width="1.3" stroke-linejoin="round"><ellipse cx="65.5" cy="451" rx="7.5" ry="9" transform="rotate(-25 65.5 451)"/><path d="M62,455 L68,447 M65,451 L62,448" fill="none" stroke-width="0.9"/><ellipse cx="80.5" cy="444" rx="6.5" ry="4.5" fill="#d9a08a"/><circle cx="79.5" cy="453" r="2"/><path d="M85,463.5 L92,446 C93.5,443.5 98.5,444 99,447.5 Z"/><path d="M95,446 L93,441 M96.5,446 L98,440 M97.5,447 L101,443" fill="none" stroke-width="1.5"/><circle cx="99.5" cy="460.5" r="2.8"/><ellipse cx="78" cy="465.5" rx="5.5" ry="6" fill="#dba28c"/><circle cx="93.5" cy="472" r="6"/><path d="M93.5,466 L95,462" fill="none"/><ellipse cx="82" cy="479" rx="4.5" ry="5.5"/><circle cx="82" cy="480" r="1.8" fill="#c9846c"/><ellipse cx="60" cy="465" rx="6" ry="5.5" fill="#dba28c"/><ellipse cx="67" cy="477" rx="9" ry="4.5" transform="rotate(35 67 477)"/></g>
<g stroke="#bf8269" stroke-width="1.3" stroke-linejoin="round"><path d="M61,518 C64,514 69,517 71,523 L66,526 Z" fill="#a39268" stroke="#8c7a55"/><path d="M88,528 L100.5,513.5" stroke="#d4a690" stroke-width="2.6" stroke-linecap="round"/><path d="M58,531 C62,523 70,520 79,520 C88,520 96,523 100,531 Z" fill="#b58d6c" stroke="#9b7558"/><path d="M64,527 h2 M70,525 h2 M76,527 h2 M82,524 h2 M88,527 h2 M93,528 h2 M73,529 h2 M85,529 h2" stroke="#eadbc8" stroke-width="1.3"/><path d="M55.5,531 C58,529 99,529 102,531 C101,543 92,550 79,551 C66,550 57,543 55.5,531 Z" fill="#f4e7e0"/><path d="M70,551 L70,554 L88,554 L88,551" fill="#f4e7e0"/><path d="M73,518 q-2,-3 0,-5 q2,-2 0,-5 M78,518 q-2,-3 0,-5 q2,-2 0,-5 M83,518 q-2,-3 0,-5 q2,-2 0,-5" fill="none" stroke="#a9654d" stroke-width="1"/></g>
<g fill="none" stroke="#386563" stroke-width="1.4"><path d="M73,738 L80,733 L88,738 L88,748 L80,753 L73,748 Z" fill="#c9ad98"/><path d="M73,738 L80,743 L88,738 M80,743 V753"/><circle cx="64" cy="731" r="3.5" fill="#aecbc8"/><circle cx="80" cy="726" r="2"/><circle cx="95" cy="731" r="2"/><circle cx="62" cy="745" r="2"/><circle cx="98" cy="745" r="2"/><circle cx="66" cy="759" r="2"/><circle cx="80" cy="764" r="2"/><circle cx="94" cy="760" r="4" fill="#aecbc8"/><path d="M80,728 V733 M64,745 H73 M88,745 H96 M68,757 L74,751 M80,762 V753"/></g>
<g stroke="#386563" stroke-width="1.5" fill="#aecbc8"><rect x="57" y="796" width="34" height="15" rx="7.5" transform="rotate(-40 74 803.5)"/><path d="M68.5,809 L79.5,798" fill="none"/><circle cx="95" cy="808" r="6"/><path d="M95,802 V814" fill="none"/><circle cx="82" cy="820" r="6"/><path d="M76,820 H88" fill="none"/></g>
<g stroke="#386563" stroke-width="1.4" fill="none"><circle cx="80" cy="861" r="9" fill="#aecbc8"/><path d="M80,845 V849 M67,851 l3,3 M93,851 l-3,3 M61,864 H65 M95,864 H99"/><path d="M63,880 Q62,872 70,872 Q74,866 81,869 Q88,866 91,873 Q98,873 98,880 Z" fill="#f3f3ef"/></g>
<g stroke="#386563" stroke-width="1.6"><path d="M526.5,734 H555 L551,770 H530.5 Z" fill="#f3f3ef"/><path d="M528,744 Q534,742 540,744 Q547,746 553.8,743.5 L551,770 H530.5 Z" fill="#b3cfcc" stroke="none"/><path d="M526.5,734 H555 L551,770 H530.5 Z" fill="none"/></g>
<g stroke="#386563" stroke-width="1.8" fill="none"><circle cx="540.5" cy="811.5" r="19.5" fill="#f3f3ef"/><path d="M540.5,811.5 L540.5,794 A17.5,17.5 0 0 1 552,825 Z" fill="#b9d3d0" stroke="none"/><circle cx="540.5" cy="811.5" r="19.5"/><path d="M540.5,797 V811.5 L551,822" stroke-width="2.2"/><g stroke-width="1.6" stroke-dasharray="1 8.1"><circle cx="540.5" cy="811.5" r="15"/></g></g>
<g stroke="#386563" stroke-width="1.6" fill="none" stroke-linecap="round"><rect x="525.5" y="855" width="29" height="33" rx="2" fill="#f3f3ef"/><rect x="533" y="851" width="13" height="6" rx="2" fill="#aecbc8"/><path d="M530,866 H544 M530,872 H540 M530,878 H537 M530,883 H536"/><path d="M545,883 L561,863 L564,866 L548,886 L544,887 Z" fill="#aecbc8"/></g>
<g stroke="#437373" stroke-width="1.5" stroke-linejoin="round"><path d="M571,228 L570.5,235 C562,236.5 555,239 552.5,246 C550,256 548,272 546.5,288 C546,296 545,302 544,306 C542,310 543,315 546,318 L550,318 C551,314 551,309 553,305 C555,296 556,284 557.5,272 L559.5,262 C560.5,276 561,290 560,300 C559.5,308 559,314 559,318 L599,318 C599,314 598.5,308 598,300 C597,290 597.5,276 598.5,262 L600.5,272 C602,284 603,296 605,305 C607,309 607,314 608,318 L612,318 C615,315 616,310 614,306 C613,302 612,296 611.5,288 C610,272 608,256 605.5,246 C603,239 596,236.5 587.5,235 L587,228 Z" fill="#b9d2d4"/><path d="M569.5,214 C568.5,205 574,201 581,201.5 C587,202 591,205.5 591,211 L593.5,216 L591,217.5 L590.5,222 C590,226 587,228 583,228 L573,228 L572,222.5 C570,220 569.5,217 569.5,214 Z" fill="#b9d2d4"/><path d="M569,216 C566,206 572,199 580,199.5 C586,199.5 592,201 591.5,205.5 C587,205 583,206.5 582,210 L580.5,214.5 L577,213.5 L576,219 L572.5,222 Z" fill="#3c7272"/></g>
<g fill="none" stroke="#c46a55" stroke-width="1.6" opacity="0.85"><path d="M577,231 V250 M577,240 C568,241 561,244 557,252 C553,262 551,280 549,300 M579,240 C588,241 595,244 599,252 C603,262 605,280 607,300"/><path d="M570,302 L566,318 M576,306 V318 M584,306 L586,318 M590,302 L594,318"/></g>
<path d="M573.5,252 C571,249 574.5,247.5 577,249.5 C579,247 584,248.5 583.5,253 C583,257 580,260 578.5,261 C575,259.5 573.5,256 573.5,252 Z" fill="#d8715a" stroke="#a84a38" stroke-width="1"/>
<path d="M565.5,271 C565.5,266 572,264.5 578,265.5 C582,266.5 582,272 579,275 C574,277 567,276 565.5,271 Z" fill="#42706f" stroke="#355e5e" stroke-width="0.8"/>
<ellipse cx="583" cy="271.5" rx="6" ry="5" fill="#f0b7a5" stroke="#c8705c" stroke-width="0.9"/>
<path d="M565,280 C567,277 586,277 589,280 C591,287 590,296 585,300 C583,301 582,304 581,308 L577,308 C577,303 575,300 570,300 C565,298 563,289 565,280 Z" fill="#e0866c" stroke="#b35a44" stroke-width="1"/>
<path d="M568,285 L586,295 M568,291 L583,299 M574,282 L588,289 M586,283 L570,296 M580,282 L567,290 M588,289 L575,299" stroke="#f0b09c" stroke-width="0.7" fill="none"/>
<g stroke="#c97c64" stroke-width="1.4" stroke-linejoin="round"><path d="M677,228 L677,237 C670,239 662,240 659,246 C656,256 655,270 653,284 C652,292 650,298 648,303 C646,306 645,309 647,311 C649,313 652,311 653,308 L656,300 C658,290 660,280 661,268 C662,276 662,282 661,290 C659,298 659,308 661,318 L703,318 C705,308 705,298 703,290 C702,282 702,276 703,268 C704,280 706,290 708,300 L711,308 C712,311 715,313 717,311 C719,309 718,306 716,303 C714,298 712,292 711,284 C709,270 708,256 705,246 C702,240 694,239 687,237 L687,228 Z" fill="#f5c5ad"/><path d="M671,219 C668,209 673,202 682,202 C691,202 697,208 697,216 C697,221 700,225 698,228 C694,230 689,229 686,228 L678,228 C675,229 672,226 672,223.5 L668.5,221.5 L671,219 Z" fill="#f5c5ad"/></g>
<ellipse cx="681.5" cy="214.5" rx="9" ry="7" fill="#e2917a" stroke="#c0705a" stroke-width="1"/>
<g fill="none" stroke="#4a8282" stroke-width="1.3" stroke-linecap="round"><path d="M682,220 V292 M682,290 C676,296 672,304 670,318 M682,290 C688,296 692,304 694,318 M682,292 C680,302 679,310 679,318 M682,292 C684,302 685,310 685,318"/><path d="M682,246 L673,248 M682,246 L691,248 M682,252 L672,255 M682,252 L692,255 M682,258 L673,261 M682,258 L691,261 M682,264 L674,267 M682,264 L690,267 M682,270 L675,273 M682,270 L689,273 M682,276 L676,279 M682,276 L688,279 M682,282 L677,285 M682,282 L687,285"/><path d="M680,240 C670,242 663,246 660,258 L656,282 L651,304 M684,240 C694,242 701,246 704,258 L708,282 L713,304"/></g>
<path d="M630.3,297 V268 Q630.3,256.2 618,256.2 H615" fill="none" stroke="#8f4a3a" stroke-width="11"/>
<path d="M630.3,297 V268 Q630.3,256.2 618,256.2 H615" fill="none" stroke="#d9846c" stroke-width="8.2"/>
<path d="M630.3,212 V242 Q630.3,254.2 642.5,254.2 H645.5" fill="none" stroke="#8f4a3a" stroke-width="11"/>
<path d="M630.3,212 V242 Q630.3,254.2 642.5,254.2 H645.5" fill="none" stroke="#d9846c" stroke-width="8.2"/>
<g fill="#d9846c" stroke="#8f4a3a" stroke-width="1.3" stroke-linejoin="round"><path d="M630.3,200.2 L619.8,213.5 L640.8,213.5 Z"/><path d="M630.3,309.1 L619.8,296 L640.8,296 Z"/><path d="M652.2,254.2 L644.2,246.2 L644.2,262.2 Z"/><path d="M608.3,256.2 L616.3,248.2 L616.3,264.2 Z"/></g>
<g stroke="#2d6567" stroke-width="2" fill="#2d6567"><path d="M623.5,344 V388" fill="none"/><path d="M618.5,387 L623.5,395.5 L628.5,387 Z" stroke-width="0.8"/><path d="M635.5,395.5 V352" fill="none"/><path d="M630.5,353 L635.5,344.5 L640.5,353 Z" stroke-width="0.8"/><path d="M681.5,459.6 V352" fill="none"/><path d="M676.5,352.5 L681.5,343.6 L686.5,352.5 Z" stroke-width="0.8"/></g>
<g stroke="#2d6567" stroke-width="1.5" fill="none" stroke-linecap="round" stroke-linejoin="round"><path d="M558,481 C554,477 555,469 561,467.5 C562,462.5 570,460.5 575,463.5 C580,460.5 589,462.5 590,468.5 C594.5,471 594.5,479 591,482.5 C591,487.5 584,490 579.5,488 C575.5,491 568.5,491 565.5,488 C561,489.5 556.5,486 558,481 Z" fill="#e6efed"/><path d="M575,463.5 C573,468 576,473 574,478 C572,482 574,486 572,489 M562,471 C566,469 568,473 571,471 M579,468 C583,466 586,470 588,468 M560,478 C564,476 566,480 569,478 M578,477 C582,475 585,479 588,477 M566,484 C568,482 571,485 572,483 M580,483 C582,481 585,484 587,482"/><path d="M570,489 C571,495 573,500 573.5,505 M567,490 C565,494 563,496 561.5,498.5 M580,489 C582,493 586,494 584,497 M585,487 C590,489 593,487 595,485 M559,483 C556,485 553,485 551,484.7"/><path d="M542,485 H546 M556,492.5 H559"/></g>
<g fill="#2d6567"><circle cx="551" cy="484.7" r="1.6"/><circle cx="561.5" cy="498.5" r="1.6"/><circle cx="595" cy="485" r="1.6"/></g>
<text x="554.05" y="188.00" font-size="15.8" textLength="151.34" lengthAdjust="spacingAndGlyphs" fill="#161616" font-weight="bold" >NUTRITIONAL BALANCE</text>
<text x="577.88" y="337.30" font-size="15.8" textLength="103.91" lengthAdjust="spacingAndGlyphs" fill="#161616" font-weight="bold" >GUT-BRAIN AXIS</text>
<text x="550.66" y="415.60" font-size="15.8" textLength="96.09" lengthAdjust="spacingAndGlyphs" fill="#161616" font-weight="bold" >SOLUBLE FIBER</text>
<text x="550.68" y="432.10" font-size="15.8" textLength="48.77" lengthAdjust="spacingAndGlyphs" fill="#161616" font-weight="bold" >ACTION</text>
<text x="601.96" y="479.70" font-size="15.8" textLength="116.88" lengthAdjust="spacingAndGlyphs" fill="#161616" font-weight="bold" >NERVOUS SYSTEM</text>
<text x="601.96" y="496.20" font-size="15.8" textLength="81.28" lengthAdjust="spacingAndGlyphs" fill="#161616" font-weight="bold" >RELAXATION</text>
<rect x="330" y="465" width="111.5" height="23.5" rx="4" fill="#f4f4f0" stroke="#e2ddd6" stroke-width="0.8"/>
<text x="335.44" y="481.90" font-size="15" textLength="100.99" lengthAdjust="spacingAndGlyphs" fill="#161616" font-weight="bold" >COLON FOCUS</text>
<path d="M386.1,489 V608" stroke="#f7f5f0" stroke-width="6" fill="none"/>
<path d="M386.1,617 L376.5,605.5 L386.1,609 L395.7,605.5 Z" stroke="#f7f5f0" stroke-width="4" fill="#f7f5f0" stroke-linejoin="round"/>
<path d="M386.1,489 V609" stroke="#1d4e50" stroke-width="2.4" fill="none"/>
<path d="M386.1,616.6 L377.3,606 L386.1,609.5 L394.9,606 Z" fill="#1d4e50" stroke="#1d4e50" stroke-width="1" stroke-linejoin="round"/>
<rect x="419" y="729" width="88.5" height="123.3" rx="3" fill="#f5f5f2" stroke="#3f7373" stroke-width="1.8"/>
<rect x="430" y="774.1" width="67" height="1.8" fill="#a9c3c0"/>
<rect x="429.5" y="779.1" width="67.5" height="1.8" fill="#a9c3c0"/>
<rect x="429.5" y="798.8000000000001" width="67.5" height="1.8" fill="#a9c3c0"/>
<rect x="429.5" y="803.8000000000001" width="67.5" height="1.8" fill="#a9c3c0"/>
<rect x="446" y="814.1" width="51" height="1.8" fill="#a9c3c0"/>
<rect x="446" y="819.1" width="37.5" height="1.8" fill="#a9c3c0"/>
<rect x="446" y="823.9" width="51" height="1.8" fill="#a9c3c0"/>
<rect x="443" y="834.1" width="54" height="1.8" fill="#a9c3c0"/>
<rect x="443" y="839.1" width="27" height="1.8" fill="#a9c3c0"/>
<ellipse cx="461" cy="765.3" rx="40" ry="10.3" fill="#f5f5f2" stroke="#b47a62" stroke-width="1.9"/>
<path d="M465.5,796 L470.5,785" stroke="#b06a50" stroke-width="1.6"/>
<text x="438.99" y="749.30" font-size="17.4" textLength="48.72" lengthAdjust="spacingAndGlyphs" fill="#245c5e" font-weight="bold" >MENU</text>
<text x="428.78" y="771.00" font-size="14.2" textLength="53.98" lengthAdjust="spacingAndGlyphs" fill="#161616" font-weight="bold" >STEAMED</text>
<text x="428.38" y="795.50" font-size="14.2" textLength="32.38" lengthAdjust="spacingAndGlyphs" fill="#161616" font-weight="bold" >FRIED</text>
<defs><linearGradient id="handFade" x1="0" y1="0" x2="0" y2="1">
<stop offset="0" stop-color="#f1f2ed" stop-opacity="0"/><stop offset="1" stop-color="#f1f2ed" stop-opacity="1"/></linearGradient></defs>
<path d="M390.5,881 C392,870 393.5,858 393.6,849 C394,842 396,838 401,835 C404,833 407,832.5 410,832 C413,830 418,827.5 421,827.5 C423,827.5 425,828.3 426,829 L434.5,808.5 C436,804.5 441,804 442.5,808.5 C443,812 441,822 437,836 C441,840 442.5,845 441.8,850 C441,858 437,866 431.6,872.3 C426,877 421,881 418.5,888 L417,895 L389,895 Z" fill="#eeb49d" stroke="none"/>
<path d="M390.5,881 C392,870 393.5,858 393.6,849 C394,842 396,838 401,835 C404,833 407,832.5 410,832 C413,830 418,827.5 421,827.5 C423,827.5 425,828.3 426,829 L434.5,808.5 C436,804.5 441,804 442.5,808.5 C443,812 441,822 437,836 C441,840 442.5,845 441.8,850 C441,858 437,866 431.6,872.3 C426,877 421,881 418.5,888 L417,893" fill="none" stroke="#8e4232" stroke-width="1.5" stroke-linejoin="round"/>
<path d="M437,836 C434,843 432.5,850 431.6,858 M404,839 L406.5,834.5 M413,838 L416,832 M422.5,839 L425.5,830" fill="none" stroke="#8e4232" stroke-width="1.3" stroke-linecap="round"/>
<ellipse cx="439" cy="809" rx="2" ry="2.5" fill="#f6cdbd"/>
<rect x="385" y="868" width="40" height="30" fill="url(#handFade)"/>
<text x="123.48" y="928.00" font-size="19.5" textLength="516.29" lengthAdjust="spacingAndGlyphs" fill="#1a1a1a"  stroke="#1a1a1a" stroke-width="0.3">Balanced nutrition is a cornerstone of overall and sexual well-being.</text>
<text x="175.52" y="947.90" font-size="19.5" textLength="413.47" lengthAdjust="spacingAndGlyphs" fill="#1a1a1a"  stroke="#1a1a1a" stroke-width="0.3">Choose whole, organic nutrients for maximal benefits.</text>
<text x="64.83" y="967.60" font-size="19.5" textLength="114.61" lengthAdjust="spacingAndGlyphs" fill="#1a1a1a" font-weight="bold" >Key Takeaway:</text>
<text x="183.58" y="967.60" font-size="19.5" textLength="515.99" lengthAdjust="spacingAndGlyphs" fill="#1a1a1a"  stroke="#1a1a1a" stroke-width="0.3">Balanced nutrition is a cornerstone of overall and sexual well-being.</text>
<rect x="44.7" y="977.3" width="674.6" height="1.1" fill="#7d7d78"/>
<rect x="225.5" y="992.5" width="13" height="10.6" fill="#ecc8b4"/>
<text x="243.56" y="1002.20" font-size="12.3" textLength="38.18" lengthAdjust="spacingAndGlyphs" fill="#222"  stroke="#222" stroke-width="0.3">Legend</text>
<rect x="304.6" y="992.5" width="12.5" height="10.6" fill="#1d5858"/>
<text x="322.24" y="1002.20" font-size="12.3" textLength="81.69" lengthAdjust="spacingAndGlyphs" fill="#222"  stroke="#222" stroke-width="0.3">Minimimalisrate</text>
<rect x="427.8" y="992.3" width="12.6" height="10.8" fill="#b35d3c"/>
<text x="443.73" y="1002.20" font-size="12.3" textLength="92.16" lengthAdjust="spacingAndGlyphs" fill="#222"  stroke="#222" stroke-width="0.3">Premium editorial</text>
<text x="558.78" y="1000.40" font-size="9.5" textLength="161.03" lengthAdjust="spacingAndGlyphs" fill="#333"  xml:space="preserve"><tspan font-weight="bold">Source:</tspan><tspan> Nutrition Science &amp; Medical Research</tspan></text>
</svg>
</body></html>
